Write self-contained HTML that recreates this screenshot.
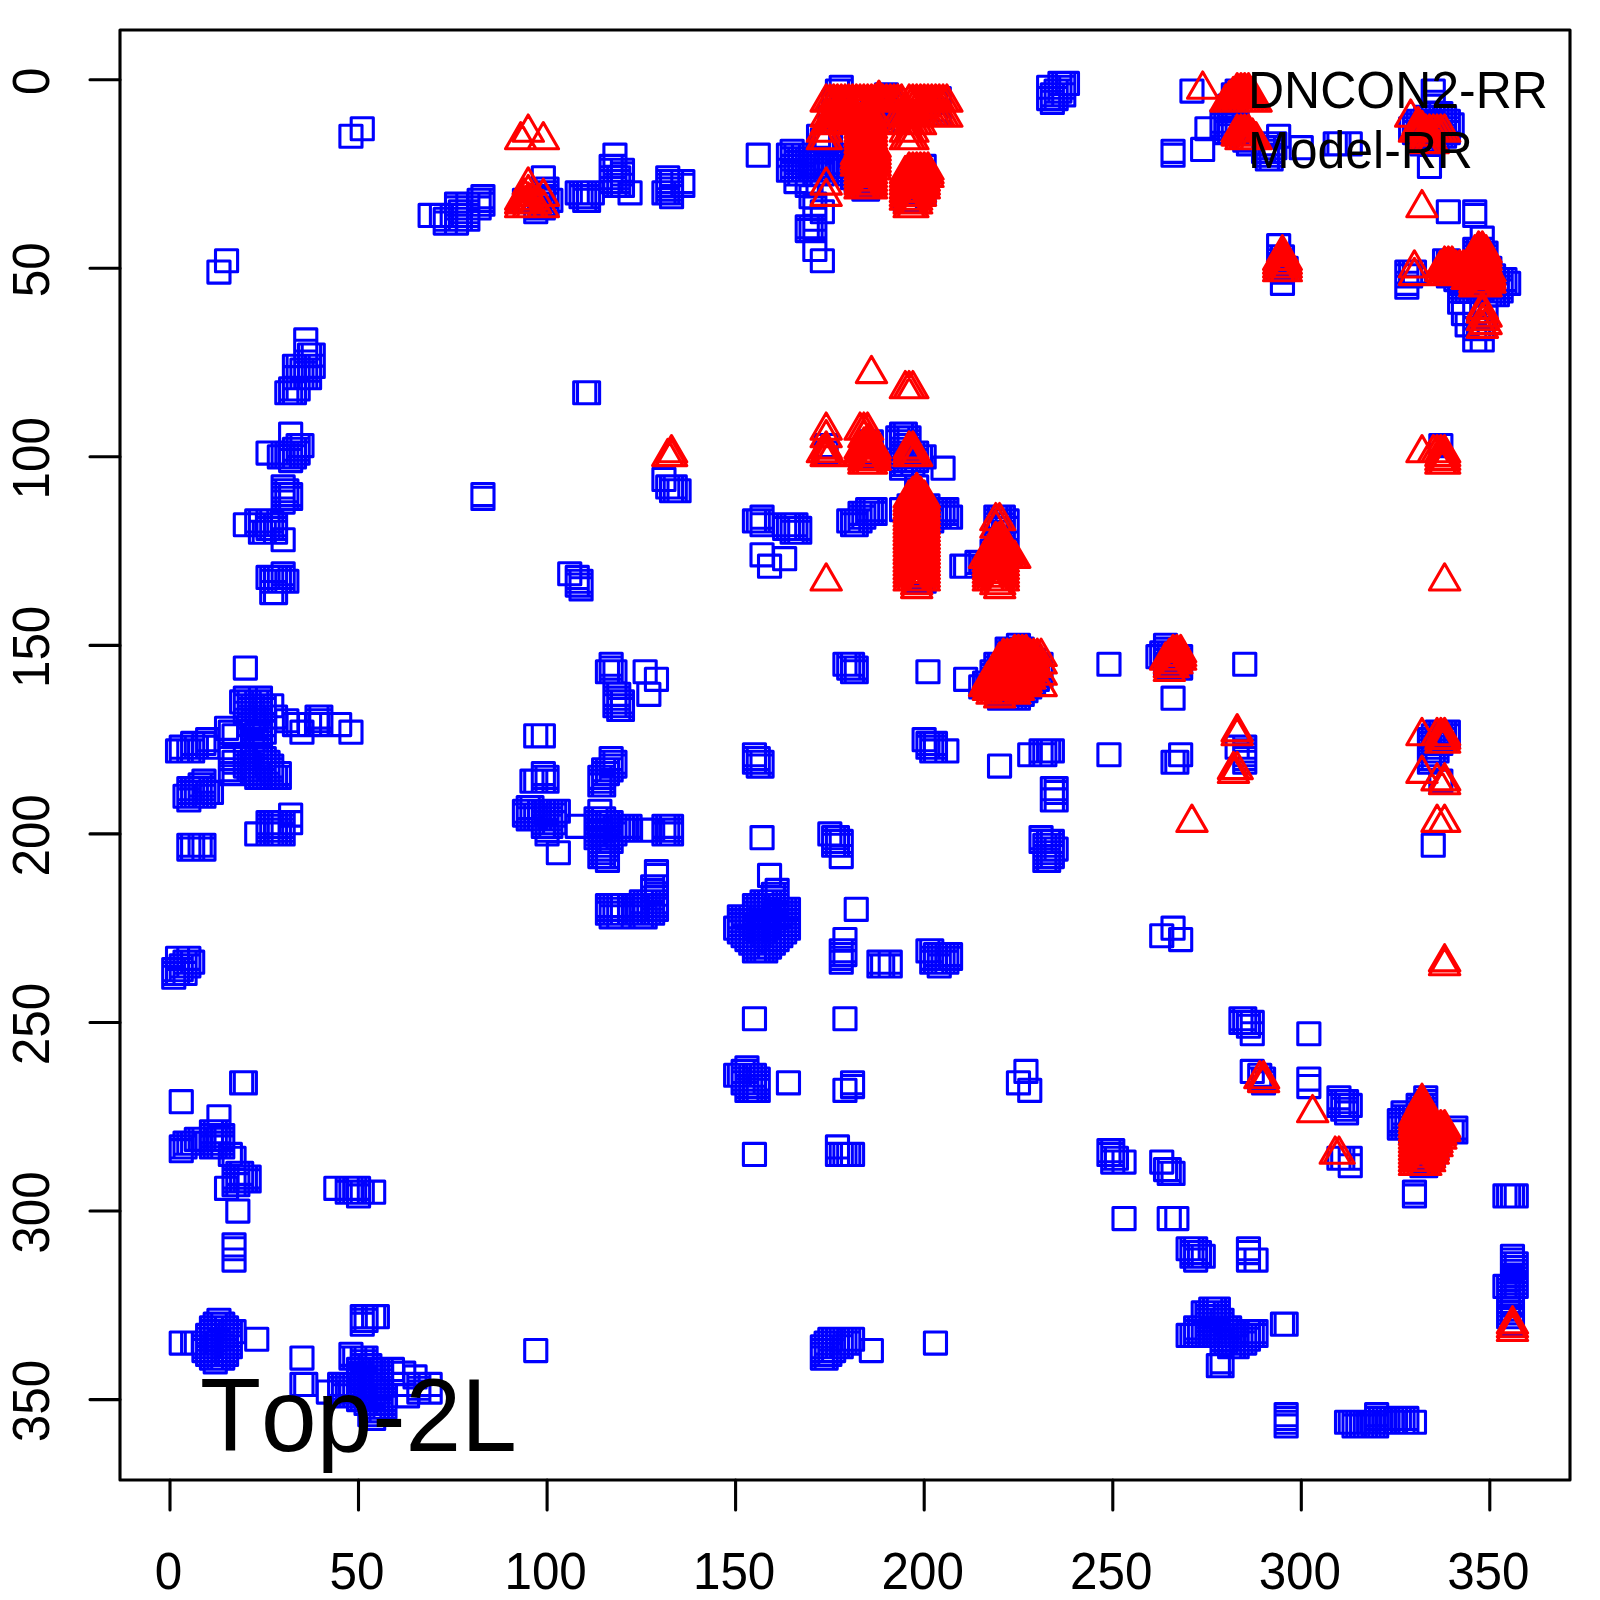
<!DOCTYPE html>
<html><head><meta charset="utf-8"><title>Top-2L contact map</title>
<style>html,body{margin:0;padding:0;background:#fff}svg{display:block}</style></head>
<body>
<svg width="1600" height="1600" viewBox="0 0 1600 1600">
<rect width="1600" height="1600" fill="#fff"/>
<path d="M162.7 958.6h22.1v22.1h-22.1zM162.7 962.4h22.1v22.1h-22.1zM162.7 966.2h22.1v22.1h-22.1zM166.5 739.9h22.1v22.1h-22.1zM166.5 947.3h22.1v22.1h-22.1zM166.5 958.6h22.1v22.1h-22.1zM166.5 962.4h22.1v22.1h-22.1zM170.2 736.1h22.1v22.1h-22.1zM170.2 739.9h22.1v22.1h-22.1zM170.2 954.9h22.1v22.1h-22.1zM170.2 958.6h22.1v22.1h-22.1zM170.2 1090.6h22.1v22.1h-22.1zM170.2 1135.9h22.1v22.1h-22.1zM170.2 1139.6h22.1v22.1h-22.1zM170.2 1332.0h22.1v22.1h-22.1zM174.0 785.2h22.1v22.1h-22.1zM174.0 951.1h22.1v22.1h-22.1zM174.0 962.4h22.1v22.1h-22.1zM174.0 1132.1h22.1v22.1h-22.1zM174.0 1135.9h22.1v22.1h-22.1zM177.8 739.9h22.1v22.1h-22.1zM177.8 777.6h22.1v22.1h-22.1zM177.8 781.4h22.1v22.1h-22.1zM177.8 785.2h22.1v22.1h-22.1zM177.8 788.9h22.1v22.1h-22.1zM177.8 834.2h22.1v22.1h-22.1zM177.8 838.0h22.1v22.1h-22.1zM177.8 947.3h22.1v22.1h-22.1zM177.8 954.9h22.1v22.1h-22.1zM177.8 1132.1h22.1v22.1h-22.1zM181.6 732.4h22.1v22.1h-22.1zM181.6 736.1h22.1v22.1h-22.1zM181.6 739.9h22.1v22.1h-22.1zM181.6 777.6h22.1v22.1h-22.1zM181.6 781.4h22.1v22.1h-22.1zM181.6 785.2h22.1v22.1h-22.1zM181.6 834.2h22.1v22.1h-22.1zM181.6 838.0h22.1v22.1h-22.1zM181.6 951.1h22.1v22.1h-22.1zM181.6 1132.1h22.1v22.1h-22.1zM181.6 1332.0h22.1v22.1h-22.1zM185.3 736.1h22.1v22.1h-22.1zM185.3 777.6h22.1v22.1h-22.1zM185.3 785.2h22.1v22.1h-22.1zM185.3 1128.3h22.1v22.1h-22.1zM185.3 1332.0h22.1v22.1h-22.1zM189.1 773.9h22.1v22.1h-22.1zM189.1 777.6h22.1v22.1h-22.1zM189.1 781.4h22.1v22.1h-22.1zM189.1 785.2h22.1v22.1h-22.1zM189.1 834.2h22.1v22.1h-22.1zM189.1 1128.3h22.1v22.1h-22.1zM192.9 732.4h22.1v22.1h-22.1zM192.9 770.1h22.1v22.1h-22.1zM192.9 773.9h22.1v22.1h-22.1zM192.9 777.6h22.1v22.1h-22.1zM192.9 781.4h22.1v22.1h-22.1zM192.9 785.2h22.1v22.1h-22.1zM192.9 834.2h22.1v22.1h-22.1zM192.9 838.0h22.1v22.1h-22.1zM192.9 1128.3h22.1v22.1h-22.1zM192.9 1332.0h22.1v22.1h-22.1zM192.9 1335.7h22.1v22.1h-22.1zM192.9 1339.5h22.1v22.1h-22.1zM196.6 728.6h22.1v22.1h-22.1zM196.6 736.1h22.1v22.1h-22.1zM196.6 781.4h22.1v22.1h-22.1zM196.6 1324.4h22.1v22.1h-22.1zM196.6 1328.2h22.1v22.1h-22.1zM196.6 1332.0h22.1v22.1h-22.1zM196.6 1335.7h22.1v22.1h-22.1zM196.6 1339.5h22.1v22.1h-22.1zM196.6 1343.3h22.1v22.1h-22.1zM200.4 781.4h22.1v22.1h-22.1zM200.4 1120.8h22.1v22.1h-22.1zM200.4 1124.6h22.1v22.1h-22.1zM200.4 1128.3h22.1v22.1h-22.1zM200.4 1132.1h22.1v22.1h-22.1zM200.4 1135.9h22.1v22.1h-22.1zM200.4 1316.9h22.1v22.1h-22.1zM200.4 1320.6h22.1v22.1h-22.1zM200.4 1324.4h22.1v22.1h-22.1zM200.4 1328.2h22.1v22.1h-22.1zM200.4 1332.0h22.1v22.1h-22.1zM200.4 1335.7h22.1v22.1h-22.1zM200.4 1339.5h22.1v22.1h-22.1zM200.4 1343.3h22.1v22.1h-22.1zM200.4 1347.0h22.1v22.1h-22.1zM204.2 1120.8h22.1v22.1h-22.1zM204.2 1124.6h22.1v22.1h-22.1zM204.2 1128.3h22.1v22.1h-22.1zM204.2 1132.1h22.1v22.1h-22.1zM204.2 1135.9h22.1v22.1h-22.1zM204.2 1313.1h22.1v22.1h-22.1zM204.2 1316.9h22.1v22.1h-22.1zM204.2 1320.6h22.1v22.1h-22.1zM204.2 1324.4h22.1v22.1h-22.1zM204.2 1328.2h22.1v22.1h-22.1zM204.2 1332.0h22.1v22.1h-22.1zM204.2 1335.7h22.1v22.1h-22.1zM204.2 1339.5h22.1v22.1h-22.1zM204.2 1343.3h22.1v22.1h-22.1zM204.2 1347.0h22.1v22.1h-22.1zM204.2 1350.8h22.1v22.1h-22.1zM207.9 261.0h22.1v22.1h-22.1zM207.9 1105.7h22.1v22.1h-22.1zM207.9 1120.8h22.1v22.1h-22.1zM207.9 1124.6h22.1v22.1h-22.1zM207.9 1128.3h22.1v22.1h-22.1zM207.9 1132.1h22.1v22.1h-22.1zM207.9 1135.9h22.1v22.1h-22.1zM207.9 1309.3h22.1v22.1h-22.1zM207.9 1313.1h22.1v22.1h-22.1zM207.9 1316.9h22.1v22.1h-22.1zM207.9 1320.6h22.1v22.1h-22.1zM207.9 1324.4h22.1v22.1h-22.1zM207.9 1328.2h22.1v22.1h-22.1zM207.9 1332.0h22.1v22.1h-22.1zM207.9 1335.7h22.1v22.1h-22.1zM207.9 1339.5h22.1v22.1h-22.1zM207.9 1343.3h22.1v22.1h-22.1zM207.9 1347.0h22.1v22.1h-22.1zM211.7 1124.6h22.1v22.1h-22.1zM211.7 1128.3h22.1v22.1h-22.1zM211.7 1132.1h22.1v22.1h-22.1zM211.7 1135.9h22.1v22.1h-22.1zM211.7 1313.1h22.1v22.1h-22.1zM211.7 1316.9h22.1v22.1h-22.1zM211.7 1320.6h22.1v22.1h-22.1zM211.7 1324.4h22.1v22.1h-22.1zM211.7 1328.2h22.1v22.1h-22.1zM211.7 1332.0h22.1v22.1h-22.1zM211.7 1335.7h22.1v22.1h-22.1zM211.7 1339.5h22.1v22.1h-22.1zM211.7 1343.3h22.1v22.1h-22.1zM211.7 1347.0h22.1v22.1h-22.1zM215.5 249.7h22.1v22.1h-22.1zM215.5 717.3h22.1v22.1h-22.1zM215.5 1177.3h22.1v22.1h-22.1zM215.5 1316.9h22.1v22.1h-22.1zM215.5 1320.6h22.1v22.1h-22.1zM215.5 1324.4h22.1v22.1h-22.1zM215.5 1328.2h22.1v22.1h-22.1zM215.5 1332.0h22.1v22.1h-22.1zM215.5 1335.7h22.1v22.1h-22.1zM215.5 1339.5h22.1v22.1h-22.1zM215.5 1343.3h22.1v22.1h-22.1zM219.3 721.1h22.1v22.1h-22.1zM219.3 743.7h22.1v22.1h-22.1zM219.3 747.5h22.1v22.1h-22.1zM219.3 758.8h22.1v22.1h-22.1zM219.3 762.5h22.1v22.1h-22.1zM219.3 1143.4h22.1v22.1h-22.1zM219.3 1320.6h22.1v22.1h-22.1zM219.3 1324.4h22.1v22.1h-22.1zM219.3 1328.2h22.1v22.1h-22.1zM219.3 1332.0h22.1v22.1h-22.1zM219.3 1335.7h22.1v22.1h-22.1zM223.0 724.8h22.1v22.1h-22.1zM223.0 751.2h22.1v22.1h-22.1zM223.0 762.5h22.1v22.1h-22.1zM223.0 1147.2h22.1v22.1h-22.1zM223.0 1166.0h22.1v22.1h-22.1zM223.0 1169.8h22.1v22.1h-22.1zM223.0 1173.6h22.1v22.1h-22.1zM223.0 1233.9h22.1v22.1h-22.1zM223.0 1237.7h22.1v22.1h-22.1zM223.0 1249.0h22.1v22.1h-22.1zM223.0 1320.6h22.1v22.1h-22.1zM226.8 1162.3h22.1v22.1h-22.1zM226.8 1166.0h22.1v22.1h-22.1zM226.8 1169.8h22.1v22.1h-22.1zM226.8 1173.6h22.1v22.1h-22.1zM226.8 1200.0h22.1v22.1h-22.1zM230.6 690.9h22.1v22.1h-22.1zM230.6 1071.8h22.1v22.1h-22.1zM230.6 1162.3h22.1v22.1h-22.1zM230.6 1166.0h22.1v22.1h-22.1zM230.6 1169.8h22.1v22.1h-22.1zM234.3 513.7h22.1v22.1h-22.1zM234.3 657.0h22.1v22.1h-22.1zM234.3 687.1h22.1v22.1h-22.1zM234.3 690.9h22.1v22.1h-22.1zM234.3 694.7h22.1v22.1h-22.1zM234.3 702.2h22.1v22.1h-22.1zM234.3 747.5h22.1v22.1h-22.1zM234.3 755.0h22.1v22.1h-22.1zM234.3 1071.8h22.1v22.1h-22.1zM234.3 1166.0h22.1v22.1h-22.1zM234.3 1169.8h22.1v22.1h-22.1zM238.1 690.9h22.1v22.1h-22.1zM238.1 698.4h22.1v22.1h-22.1zM238.1 706.0h22.1v22.1h-22.1zM238.1 713.5h22.1v22.1h-22.1zM238.1 751.2h22.1v22.1h-22.1zM238.1 758.8h22.1v22.1h-22.1zM238.1 1166.0h22.1v22.1h-22.1zM238.1 1169.8h22.1v22.1h-22.1zM241.9 694.7h22.1v22.1h-22.1zM241.9 702.2h22.1v22.1h-22.1zM241.9 709.7h22.1v22.1h-22.1zM241.9 717.3h22.1v22.1h-22.1zM241.9 724.8h22.1v22.1h-22.1zM241.9 732.4h22.1v22.1h-22.1zM241.9 739.9h22.1v22.1h-22.1zM241.9 743.7h22.1v22.1h-22.1zM241.9 747.5h22.1v22.1h-22.1zM241.9 755.0h22.1v22.1h-22.1zM241.9 762.5h22.1v22.1h-22.1zM245.7 509.9h22.1v22.1h-22.1zM245.7 513.7h22.1v22.1h-22.1zM245.7 690.9h22.1v22.1h-22.1zM245.7 698.4h22.1v22.1h-22.1zM245.7 706.0h22.1v22.1h-22.1zM245.7 713.5h22.1v22.1h-22.1zM245.7 721.1h22.1v22.1h-22.1zM245.7 728.6h22.1v22.1h-22.1zM245.7 736.1h22.1v22.1h-22.1zM245.7 743.7h22.1v22.1h-22.1zM245.7 751.2h22.1v22.1h-22.1zM245.7 758.8h22.1v22.1h-22.1zM245.7 766.3h22.1v22.1h-22.1zM245.7 822.9h22.1v22.1h-22.1zM245.7 1328.2h22.1v22.1h-22.1zM249.4 509.9h22.1v22.1h-22.1zM249.4 513.7h22.1v22.1h-22.1zM249.4 521.2h22.1v22.1h-22.1zM249.4 687.1h22.1v22.1h-22.1zM249.4 690.9h22.1v22.1h-22.1zM249.4 694.7h22.1v22.1h-22.1zM249.4 702.2h22.1v22.1h-22.1zM249.4 709.7h22.1v22.1h-22.1zM249.4 717.3h22.1v22.1h-22.1zM249.4 724.8h22.1v22.1h-22.1zM249.4 743.7h22.1v22.1h-22.1zM249.4 747.5h22.1v22.1h-22.1zM249.4 755.0h22.1v22.1h-22.1zM249.4 762.5h22.1v22.1h-22.1zM249.4 766.3h22.1v22.1h-22.1zM253.2 521.2h22.1v22.1h-22.1zM253.2 694.7h22.1v22.1h-22.1zM253.2 698.4h22.1v22.1h-22.1zM253.2 706.0h22.1v22.1h-22.1zM253.2 713.5h22.1v22.1h-22.1zM253.2 721.1h22.1v22.1h-22.1zM253.2 747.5h22.1v22.1h-22.1zM253.2 751.2h22.1v22.1h-22.1zM253.2 758.8h22.1v22.1h-22.1zM253.2 766.3h22.1v22.1h-22.1zM257.0 442.0h22.1v22.1h-22.1zM257.0 509.9h22.1v22.1h-22.1zM257.0 517.4h22.1v22.1h-22.1zM257.0 566.4h22.1v22.1h-22.1zM257.0 751.2h22.1v22.1h-22.1zM257.0 755.0h22.1v22.1h-22.1zM257.0 762.5h22.1v22.1h-22.1zM257.0 766.3h22.1v22.1h-22.1zM257.0 811.6h22.1v22.1h-22.1zM257.0 815.3h22.1v22.1h-22.1zM257.0 819.1h22.1v22.1h-22.1zM257.0 822.9h22.1v22.1h-22.1zM260.7 509.9h22.1v22.1h-22.1zM260.7 513.7h22.1v22.1h-22.1zM260.7 517.4h22.1v22.1h-22.1zM260.7 566.4h22.1v22.1h-22.1zM260.7 570.2h22.1v22.1h-22.1zM260.7 581.5h22.1v22.1h-22.1zM260.7 694.7h22.1v22.1h-22.1zM260.7 755.0h22.1v22.1h-22.1zM260.7 758.8h22.1v22.1h-22.1zM260.7 762.5h22.1v22.1h-22.1zM260.7 766.3h22.1v22.1h-22.1zM260.7 811.6h22.1v22.1h-22.1zM260.7 815.3h22.1v22.1h-22.1zM260.7 819.1h22.1v22.1h-22.1zM260.7 822.9h22.1v22.1h-22.1zM264.5 513.7h22.1v22.1h-22.1zM264.5 517.4h22.1v22.1h-22.1zM264.5 521.2h22.1v22.1h-22.1zM264.5 566.4h22.1v22.1h-22.1zM264.5 570.2h22.1v22.1h-22.1zM264.5 581.5h22.1v22.1h-22.1zM264.5 706.0h22.1v22.1h-22.1zM264.5 766.3h22.1v22.1h-22.1zM264.5 811.6h22.1v22.1h-22.1zM264.5 815.3h22.1v22.1h-22.1zM264.5 819.1h22.1v22.1h-22.1zM264.5 822.9h22.1v22.1h-22.1zM268.3 445.8h22.1v22.1h-22.1zM268.3 566.4h22.1v22.1h-22.1zM268.3 570.2h22.1v22.1h-22.1zM268.3 762.5h22.1v22.1h-22.1zM268.3 766.3h22.1v22.1h-22.1zM268.3 811.6h22.1v22.1h-22.1zM268.3 815.3h22.1v22.1h-22.1zM268.3 819.1h22.1v22.1h-22.1zM268.3 822.9h22.1v22.1h-22.1zM272.1 442.0h22.1v22.1h-22.1zM272.1 445.8h22.1v22.1h-22.1zM272.1 475.9h22.1v22.1h-22.1zM272.1 479.7h22.1v22.1h-22.1zM272.1 483.5h22.1v22.1h-22.1zM272.1 487.3h22.1v22.1h-22.1zM272.1 491.0h22.1v22.1h-22.1zM272.1 528.7h22.1v22.1h-22.1zM272.1 562.7h22.1v22.1h-22.1zM272.1 566.4h22.1v22.1h-22.1zM272.1 570.2h22.1v22.1h-22.1zM272.1 811.6h22.1v22.1h-22.1zM272.1 815.3h22.1v22.1h-22.1zM272.1 819.1h22.1v22.1h-22.1zM272.1 822.9h22.1v22.1h-22.1zM275.8 381.7h22.1v22.1h-22.1zM275.8 442.0h22.1v22.1h-22.1zM275.8 445.8h22.1v22.1h-22.1zM275.8 479.7h22.1v22.1h-22.1zM275.8 483.5h22.1v22.1h-22.1zM275.8 487.3h22.1v22.1h-22.1zM275.8 570.2h22.1v22.1h-22.1zM275.8 709.7h22.1v22.1h-22.1zM279.6 377.9h22.1v22.1h-22.1zM279.6 381.7h22.1v22.1h-22.1zM279.6 423.1h22.1v22.1h-22.1zM279.6 442.0h22.1v22.1h-22.1zM279.6 445.8h22.1v22.1h-22.1zM279.6 449.5h22.1v22.1h-22.1zM279.6 483.5h22.1v22.1h-22.1zM279.6 487.3h22.1v22.1h-22.1zM279.6 804.0h22.1v22.1h-22.1zM279.6 811.6h22.1v22.1h-22.1zM283.4 355.3h22.1v22.1h-22.1zM283.4 366.6h22.1v22.1h-22.1zM283.4 377.9h22.1v22.1h-22.1zM283.4 381.7h22.1v22.1h-22.1zM283.4 438.2h22.1v22.1h-22.1zM283.4 442.0h22.1v22.1h-22.1zM283.4 445.8h22.1v22.1h-22.1zM283.4 713.5h22.1v22.1h-22.1zM287.1 355.3h22.1v22.1h-22.1zM287.1 366.6h22.1v22.1h-22.1zM287.1 377.9h22.1v22.1h-22.1zM287.1 434.5h22.1v22.1h-22.1zM287.1 438.2h22.1v22.1h-22.1zM287.1 442.0h22.1v22.1h-22.1zM287.1 713.5h22.1v22.1h-22.1zM290.9 359.0h22.1v22.1h-22.1zM290.9 366.6h22.1v22.1h-22.1zM290.9 434.5h22.1v22.1h-22.1zM290.9 721.1h22.1v22.1h-22.1zM290.9 1347.0h22.1v22.1h-22.1zM290.9 1373.4h22.1v22.1h-22.1zM294.7 328.9h22.1v22.1h-22.1zM294.7 340.2h22.1v22.1h-22.1zM294.7 355.3h22.1v22.1h-22.1zM294.7 366.6h22.1v22.1h-22.1zM294.7 1373.4h22.1v22.1h-22.1zM298.5 344.0h22.1v22.1h-22.1zM298.5 359.0h22.1v22.1h-22.1zM298.5 366.6h22.1v22.1h-22.1zM298.5 713.5h22.1v22.1h-22.1zM302.2 344.0h22.1v22.1h-22.1zM302.2 355.3h22.1v22.1h-22.1zM306.0 706.0h22.1v22.1h-22.1zM306.0 709.7h22.1v22.1h-22.1zM306.0 713.5h22.1v22.1h-22.1zM309.8 706.0h22.1v22.1h-22.1zM309.8 709.7h22.1v22.1h-22.1zM309.8 713.5h22.1v22.1h-22.1zM317.3 1381.0h22.1v22.1h-22.1zM324.8 1177.3h22.1v22.1h-22.1zM328.6 713.5h22.1v22.1h-22.1zM328.6 1373.4h22.1v22.1h-22.1zM328.6 1377.2h22.1v22.1h-22.1zM328.6 1381.0h22.1v22.1h-22.1zM332.4 1373.4h22.1v22.1h-22.1zM332.4 1377.2h22.1v22.1h-22.1zM332.4 1381.0h22.1v22.1h-22.1zM332.4 1384.8h22.1v22.1h-22.1zM336.2 1177.3h22.1v22.1h-22.1zM336.2 1181.1h22.1v22.1h-22.1zM336.2 1373.4h22.1v22.1h-22.1zM336.2 1377.2h22.1v22.1h-22.1zM336.2 1381.0h22.1v22.1h-22.1zM336.2 1384.8h22.1v22.1h-22.1zM339.9 125.2h22.1v22.1h-22.1zM339.9 721.1h22.1v22.1h-22.1zM339.9 1177.3h22.1v22.1h-22.1zM339.9 1181.1h22.1v22.1h-22.1zM339.9 1343.3h22.1v22.1h-22.1zM339.9 1347.0h22.1v22.1h-22.1zM339.9 1373.4h22.1v22.1h-22.1zM339.9 1377.2h22.1v22.1h-22.1zM339.9 1381.0h22.1v22.1h-22.1zM339.9 1384.8h22.1v22.1h-22.1zM343.7 1177.3h22.1v22.1h-22.1zM343.7 1181.1h22.1v22.1h-22.1zM343.7 1347.0h22.1v22.1h-22.1zM343.7 1373.4h22.1v22.1h-22.1zM343.7 1377.2h22.1v22.1h-22.1zM343.7 1381.0h22.1v22.1h-22.1zM343.7 1384.8h22.1v22.1h-22.1zM347.5 1177.3h22.1v22.1h-22.1zM347.5 1181.1h22.1v22.1h-22.1zM347.5 1184.9h22.1v22.1h-22.1zM347.5 1358.4h22.1v22.1h-22.1zM347.5 1362.1h22.1v22.1h-22.1zM347.5 1365.9h22.1v22.1h-22.1zM347.5 1369.7h22.1v22.1h-22.1zM347.5 1373.4h22.1v22.1h-22.1zM347.5 1377.2h22.1v22.1h-22.1zM347.5 1381.0h22.1v22.1h-22.1zM347.5 1384.8h22.1v22.1h-22.1zM347.5 1388.5h22.1v22.1h-22.1zM351.2 117.7h22.1v22.1h-22.1zM351.2 1181.1h22.1v22.1h-22.1zM351.2 1305.6h22.1v22.1h-22.1zM351.2 1309.3h22.1v22.1h-22.1zM351.2 1313.1h22.1v22.1h-22.1zM351.2 1347.0h22.1v22.1h-22.1zM351.2 1350.8h22.1v22.1h-22.1zM351.2 1354.6h22.1v22.1h-22.1zM351.2 1358.4h22.1v22.1h-22.1zM351.2 1362.1h22.1v22.1h-22.1zM351.2 1365.9h22.1v22.1h-22.1zM351.2 1369.7h22.1v22.1h-22.1zM351.2 1373.4h22.1v22.1h-22.1zM351.2 1377.2h22.1v22.1h-22.1zM351.2 1381.0h22.1v22.1h-22.1zM351.2 1384.8h22.1v22.1h-22.1zM351.2 1388.5h22.1v22.1h-22.1zM355.0 1305.6h22.1v22.1h-22.1zM355.0 1309.3h22.1v22.1h-22.1zM355.0 1347.0h22.1v22.1h-22.1zM355.0 1350.8h22.1v22.1h-22.1zM355.0 1354.6h22.1v22.1h-22.1zM355.0 1358.4h22.1v22.1h-22.1zM355.0 1362.1h22.1v22.1h-22.1zM355.0 1365.9h22.1v22.1h-22.1zM355.0 1369.7h22.1v22.1h-22.1zM355.0 1373.4h22.1v22.1h-22.1zM355.0 1377.2h22.1v22.1h-22.1zM355.0 1381.0h22.1v22.1h-22.1zM355.0 1384.8h22.1v22.1h-22.1zM355.0 1388.5h22.1v22.1h-22.1zM355.0 1392.3h22.1v22.1h-22.1zM358.8 1354.6h22.1v22.1h-22.1zM358.8 1358.4h22.1v22.1h-22.1zM358.8 1362.1h22.1v22.1h-22.1zM358.8 1365.9h22.1v22.1h-22.1zM358.8 1369.7h22.1v22.1h-22.1zM358.8 1373.4h22.1v22.1h-22.1zM358.8 1377.2h22.1v22.1h-22.1zM358.8 1381.0h22.1v22.1h-22.1zM358.8 1384.8h22.1v22.1h-22.1zM358.8 1388.5h22.1v22.1h-22.1zM358.8 1392.3h22.1v22.1h-22.1zM358.8 1396.1h22.1v22.1h-22.1zM358.8 1399.8h22.1v22.1h-22.1zM358.8 1403.6h22.1v22.1h-22.1zM362.6 1181.1h22.1v22.1h-22.1zM362.6 1305.6h22.1v22.1h-22.1zM362.6 1358.4h22.1v22.1h-22.1zM362.6 1362.1h22.1v22.1h-22.1zM362.6 1365.9h22.1v22.1h-22.1zM362.6 1369.7h22.1v22.1h-22.1zM362.6 1373.4h22.1v22.1h-22.1zM362.6 1377.2h22.1v22.1h-22.1zM362.6 1381.0h22.1v22.1h-22.1zM362.6 1384.8h22.1v22.1h-22.1zM362.6 1388.5h22.1v22.1h-22.1zM362.6 1392.3h22.1v22.1h-22.1zM362.6 1396.1h22.1v22.1h-22.1zM362.6 1399.8h22.1v22.1h-22.1zM362.6 1403.6h22.1v22.1h-22.1zM362.6 1407.4h22.1v22.1h-22.1zM366.3 1305.6h22.1v22.1h-22.1zM366.3 1358.4h22.1v22.1h-22.1zM366.3 1362.1h22.1v22.1h-22.1zM366.3 1365.9h22.1v22.1h-22.1zM366.3 1369.7h22.1v22.1h-22.1zM366.3 1373.4h22.1v22.1h-22.1zM366.3 1377.2h22.1v22.1h-22.1zM366.3 1381.0h22.1v22.1h-22.1zM366.3 1384.8h22.1v22.1h-22.1zM366.3 1388.5h22.1v22.1h-22.1zM366.3 1392.3h22.1v22.1h-22.1zM366.3 1396.1h22.1v22.1h-22.1zM366.3 1399.8h22.1v22.1h-22.1zM370.1 1358.4h22.1v22.1h-22.1zM370.1 1362.1h22.1v22.1h-22.1zM370.1 1365.9h22.1v22.1h-22.1zM370.1 1369.7h22.1v22.1h-22.1zM370.1 1373.4h22.1v22.1h-22.1zM370.1 1377.2h22.1v22.1h-22.1zM370.1 1381.0h22.1v22.1h-22.1zM370.1 1384.8h22.1v22.1h-22.1zM370.1 1388.5h22.1v22.1h-22.1zM370.1 1392.3h22.1v22.1h-22.1zM370.1 1396.1h22.1v22.1h-22.1zM370.1 1399.8h22.1v22.1h-22.1zM373.9 1384.8h22.1v22.1h-22.1zM373.9 1388.5h22.1v22.1h-22.1zM373.9 1392.3h22.1v22.1h-22.1zM373.9 1396.1h22.1v22.1h-22.1zM381.4 1358.4h22.1v22.1h-22.1zM392.7 1362.1h22.1v22.1h-22.1zM392.7 1373.4h22.1v22.1h-22.1zM396.5 1384.8h22.1v22.1h-22.1zM404.0 1365.9h22.1v22.1h-22.1zM407.8 1373.4h22.1v22.1h-22.1zM407.8 1377.2h22.1v22.1h-22.1zM407.8 1381.0h22.1v22.1h-22.1zM419.1 204.4h22.1v22.1h-22.1zM419.1 1373.4h22.1v22.1h-22.1zM419.1 1381.0h22.1v22.1h-22.1zM430.4 204.4h22.1v22.1h-22.1zM434.2 208.2h22.1v22.1h-22.1zM434.2 212.0h22.1v22.1h-22.1zM445.5 193.1h22.1v22.1h-22.1zM445.5 196.9h22.1v22.1h-22.1zM445.5 204.4h22.1v22.1h-22.1zM445.5 212.0h22.1v22.1h-22.1zM449.3 200.7h22.1v22.1h-22.1zM449.3 208.2h22.1v22.1h-22.1zM456.8 193.1h22.1v22.1h-22.1zM456.8 196.9h22.1v22.1h-22.1zM456.8 200.7h22.1v22.1h-22.1zM456.8 204.4h22.1v22.1h-22.1zM456.8 208.2h22.1v22.1h-22.1zM468.1 189.3h22.1v22.1h-22.1zM468.1 193.1h22.1v22.1h-22.1zM468.1 196.9h22.1v22.1h-22.1zM471.9 185.6h22.1v22.1h-22.1zM471.9 189.3h22.1v22.1h-22.1zM471.9 193.1h22.1v22.1h-22.1zM471.9 483.5h22.1v22.1h-22.1zM471.9 487.3h22.1v22.1h-22.1zM513.4 189.3h22.1v22.1h-22.1zM513.4 800.2h22.1v22.1h-22.1zM513.4 804.0h22.1v22.1h-22.1zM517.2 796.5h22.1v22.1h-22.1zM517.2 804.0h22.1v22.1h-22.1zM517.2 807.8h22.1v22.1h-22.1zM520.9 770.1h22.1v22.1h-22.1zM520.9 796.5h22.1v22.1h-22.1zM520.9 804.0h22.1v22.1h-22.1zM520.9 807.8h22.1v22.1h-22.1zM524.7 196.9h22.1v22.1h-22.1zM524.7 200.7h22.1v22.1h-22.1zM524.7 724.8h22.1v22.1h-22.1zM524.7 770.1h22.1v22.1h-22.1zM524.7 804.0h22.1v22.1h-22.1zM524.7 807.8h22.1v22.1h-22.1zM524.7 1339.5h22.1v22.1h-22.1zM528.5 193.1h22.1v22.1h-22.1zM528.5 196.9h22.1v22.1h-22.1zM528.5 800.2h22.1v22.1h-22.1zM528.5 804.0h22.1v22.1h-22.1zM528.5 807.8h22.1v22.1h-22.1zM532.3 166.7h22.1v22.1h-22.1zM532.3 181.8h22.1v22.1h-22.1zM532.3 185.6h22.1v22.1h-22.1zM532.3 189.3h22.1v22.1h-22.1zM532.3 193.1h22.1v22.1h-22.1zM532.3 196.9h22.1v22.1h-22.1zM532.3 724.8h22.1v22.1h-22.1zM532.3 762.5h22.1v22.1h-22.1zM532.3 766.3h22.1v22.1h-22.1zM532.3 770.1h22.1v22.1h-22.1zM532.3 800.2h22.1v22.1h-22.1zM532.3 804.0h22.1v22.1h-22.1zM532.3 807.8h22.1v22.1h-22.1zM532.3 811.6h22.1v22.1h-22.1zM532.3 815.3h22.1v22.1h-22.1zM536.0 178.0h22.1v22.1h-22.1zM536.0 181.8h22.1v22.1h-22.1zM536.0 185.6h22.1v22.1h-22.1zM536.0 189.3h22.1v22.1h-22.1zM536.0 193.1h22.1v22.1h-22.1zM536.0 766.3h22.1v22.1h-22.1zM536.0 770.1h22.1v22.1h-22.1zM536.0 800.2h22.1v22.1h-22.1zM536.0 804.0h22.1v22.1h-22.1zM536.0 807.8h22.1v22.1h-22.1zM536.0 811.6h22.1v22.1h-22.1zM536.0 815.3h22.1v22.1h-22.1zM536.0 819.1h22.1v22.1h-22.1zM536.0 822.9h22.1v22.1h-22.1zM539.8 189.3h22.1v22.1h-22.1zM539.8 800.2h22.1v22.1h-22.1zM539.8 804.0h22.1v22.1h-22.1zM539.8 807.8h22.1v22.1h-22.1zM539.8 811.6h22.1v22.1h-22.1zM539.8 815.3h22.1v22.1h-22.1zM543.6 800.2h22.1v22.1h-22.1zM543.6 804.0h22.1v22.1h-22.1zM543.6 811.6h22.1v22.1h-22.1zM547.3 800.2h22.1v22.1h-22.1zM547.3 841.7h22.1v22.1h-22.1zM558.7 562.7h22.1v22.1h-22.1zM566.2 181.8h22.1v22.1h-22.1zM566.2 566.4h22.1v22.1h-22.1zM566.2 570.2h22.1v22.1h-22.1zM566.2 574.0h22.1v22.1h-22.1zM566.2 815.3h22.1v22.1h-22.1zM570.0 181.8h22.1v22.1h-22.1zM570.0 185.6h22.1v22.1h-22.1zM570.0 570.2h22.1v22.1h-22.1zM570.0 574.0h22.1v22.1h-22.1zM570.0 577.8h22.1v22.1h-22.1zM573.7 181.8h22.1v22.1h-22.1zM573.7 185.6h22.1v22.1h-22.1zM573.7 189.3h22.1v22.1h-22.1zM573.7 381.7h22.1v22.1h-22.1zM577.5 181.8h22.1v22.1h-22.1zM577.5 185.6h22.1v22.1h-22.1zM577.5 189.3h22.1v22.1h-22.1zM577.5 381.7h22.1v22.1h-22.1zM581.3 181.8h22.1v22.1h-22.1zM585.0 807.8h22.1v22.1h-22.1zM585.0 811.6h22.1v22.1h-22.1zM585.0 815.3h22.1v22.1h-22.1zM585.0 819.1h22.1v22.1h-22.1zM585.0 822.9h22.1v22.1h-22.1zM585.0 826.6h22.1v22.1h-22.1zM588.8 766.3h22.1v22.1h-22.1zM588.8 770.1h22.1v22.1h-22.1zM588.8 773.9h22.1v22.1h-22.1zM588.8 800.2h22.1v22.1h-22.1zM588.8 807.8h22.1v22.1h-22.1zM588.8 811.6h22.1v22.1h-22.1zM588.8 815.3h22.1v22.1h-22.1zM588.8 819.1h22.1v22.1h-22.1zM588.8 822.9h22.1v22.1h-22.1zM588.8 826.6h22.1v22.1h-22.1zM588.8 830.4h22.1v22.1h-22.1zM588.8 834.2h22.1v22.1h-22.1zM588.8 838.0h22.1v22.1h-22.1zM588.8 841.7h22.1v22.1h-22.1zM588.8 845.5h22.1v22.1h-22.1zM592.6 758.8h22.1v22.1h-22.1zM592.6 762.5h22.1v22.1h-22.1zM592.6 766.3h22.1v22.1h-22.1zM592.6 770.1h22.1v22.1h-22.1zM592.6 773.9h22.1v22.1h-22.1zM592.6 807.8h22.1v22.1h-22.1zM592.6 811.6h22.1v22.1h-22.1zM592.6 815.3h22.1v22.1h-22.1zM592.6 819.1h22.1v22.1h-22.1zM592.6 822.9h22.1v22.1h-22.1zM592.6 826.6h22.1v22.1h-22.1zM592.6 830.4h22.1v22.1h-22.1zM592.6 834.2h22.1v22.1h-22.1zM592.6 838.0h22.1v22.1h-22.1zM592.6 841.7h22.1v22.1h-22.1zM592.6 845.5h22.1v22.1h-22.1zM596.4 660.7h22.1v22.1h-22.1zM596.4 758.8h22.1v22.1h-22.1zM596.4 762.5h22.1v22.1h-22.1zM596.4 811.6h22.1v22.1h-22.1zM596.4 815.3h22.1v22.1h-22.1zM596.4 819.1h22.1v22.1h-22.1zM596.4 822.9h22.1v22.1h-22.1zM596.4 826.6h22.1v22.1h-22.1zM596.4 830.4h22.1v22.1h-22.1zM596.4 834.2h22.1v22.1h-22.1zM596.4 838.0h22.1v22.1h-22.1zM596.4 845.5h22.1v22.1h-22.1zM596.4 849.3h22.1v22.1h-22.1zM596.4 894.5h22.1v22.1h-22.1zM596.4 898.3h22.1v22.1h-22.1zM596.4 902.1h22.1v22.1h-22.1zM600.1 155.4h22.1v22.1h-22.1zM600.1 159.2h22.1v22.1h-22.1zM600.1 166.7h22.1v22.1h-22.1zM600.1 170.5h22.1v22.1h-22.1zM600.1 653.2h22.1v22.1h-22.1zM600.1 657.0h22.1v22.1h-22.1zM600.1 660.7h22.1v22.1h-22.1zM600.1 747.5h22.1v22.1h-22.1zM600.1 751.2h22.1v22.1h-22.1zM600.1 755.0h22.1v22.1h-22.1zM600.1 758.8h22.1v22.1h-22.1zM600.1 811.6h22.1v22.1h-22.1zM600.1 815.3h22.1v22.1h-22.1zM600.1 819.1h22.1v22.1h-22.1zM600.1 822.9h22.1v22.1h-22.1zM600.1 826.6h22.1v22.1h-22.1zM600.1 830.4h22.1v22.1h-22.1zM600.1 894.5h22.1v22.1h-22.1zM600.1 898.3h22.1v22.1h-22.1zM600.1 902.1h22.1v22.1h-22.1zM600.1 905.8h22.1v22.1h-22.1zM603.9 144.1h22.1v22.1h-22.1zM603.9 155.4h22.1v22.1h-22.1zM603.9 159.2h22.1v22.1h-22.1zM603.9 170.5h22.1v22.1h-22.1zM603.9 174.3h22.1v22.1h-22.1zM603.9 660.7h22.1v22.1h-22.1zM603.9 683.3h22.1v22.1h-22.1zM603.9 687.1h22.1v22.1h-22.1zM603.9 690.9h22.1v22.1h-22.1zM603.9 694.7h22.1v22.1h-22.1zM603.9 751.2h22.1v22.1h-22.1zM603.9 755.0h22.1v22.1h-22.1zM603.9 815.3h22.1v22.1h-22.1zM603.9 819.1h22.1v22.1h-22.1zM603.9 822.9h22.1v22.1h-22.1zM603.9 894.5h22.1v22.1h-22.1zM603.9 898.3h22.1v22.1h-22.1zM603.9 902.1h22.1v22.1h-22.1zM607.7 166.7h22.1v22.1h-22.1zM607.7 170.5h22.1v22.1h-22.1zM607.7 174.3h22.1v22.1h-22.1zM607.7 683.3h22.1v22.1h-22.1zM607.7 687.1h22.1v22.1h-22.1zM607.7 690.9h22.1v22.1h-22.1zM607.7 694.7h22.1v22.1h-22.1zM607.7 698.4h22.1v22.1h-22.1zM607.7 815.3h22.1v22.1h-22.1zM607.7 819.1h22.1v22.1h-22.1zM607.7 894.5h22.1v22.1h-22.1zM607.7 898.3h22.1v22.1h-22.1zM607.7 902.1h22.1v22.1h-22.1zM607.7 905.8h22.1v22.1h-22.1zM611.4 159.2h22.1v22.1h-22.1zM611.4 162.9h22.1v22.1h-22.1zM611.4 174.3h22.1v22.1h-22.1zM611.4 690.9h22.1v22.1h-22.1zM611.4 694.7h22.1v22.1h-22.1zM611.4 698.4h22.1v22.1h-22.1zM611.4 815.3h22.1v22.1h-22.1zM611.4 819.1h22.1v22.1h-22.1zM611.4 894.5h22.1v22.1h-22.1zM611.4 898.3h22.1v22.1h-22.1zM611.4 902.1h22.1v22.1h-22.1zM615.2 815.3h22.1v22.1h-22.1zM615.2 819.1h22.1v22.1h-22.1zM619.0 181.8h22.1v22.1h-22.1zM619.0 815.3h22.1v22.1h-22.1zM619.0 819.1h22.1v22.1h-22.1zM622.8 894.5h22.1v22.1h-22.1zM622.8 898.3h22.1v22.1h-22.1zM622.8 902.1h22.1v22.1h-22.1zM626.5 894.5h22.1v22.1h-22.1zM626.5 898.3h22.1v22.1h-22.1zM626.5 902.1h22.1v22.1h-22.1zM630.3 890.8h22.1v22.1h-22.1zM630.3 894.5h22.1v22.1h-22.1zM630.3 898.3h22.1v22.1h-22.1zM630.3 902.1h22.1v22.1h-22.1zM630.3 905.8h22.1v22.1h-22.1zM634.1 660.7h22.1v22.1h-22.1zM634.1 819.1h22.1v22.1h-22.1zM634.1 890.8h22.1v22.1h-22.1zM634.1 894.5h22.1v22.1h-22.1zM634.1 898.3h22.1v22.1h-22.1zM634.1 902.1h22.1v22.1h-22.1zM634.1 905.8h22.1v22.1h-22.1zM637.8 683.3h22.1v22.1h-22.1zM637.8 819.1h22.1v22.1h-22.1zM637.8 890.8h22.1v22.1h-22.1zM637.8 894.5h22.1v22.1h-22.1zM637.8 898.3h22.1v22.1h-22.1zM637.8 902.1h22.1v22.1h-22.1zM641.6 819.1h22.1v22.1h-22.1zM641.6 875.7h22.1v22.1h-22.1zM641.6 879.4h22.1v22.1h-22.1zM641.6 887.0h22.1v22.1h-22.1zM641.6 890.8h22.1v22.1h-22.1zM641.6 894.5h22.1v22.1h-22.1zM641.6 898.3h22.1v22.1h-22.1zM641.6 902.1h22.1v22.1h-22.1zM645.4 668.3h22.1v22.1h-22.1zM645.4 860.6h22.1v22.1h-22.1zM645.4 864.4h22.1v22.1h-22.1zM645.4 875.7h22.1v22.1h-22.1zM645.4 883.2h22.1v22.1h-22.1zM645.4 890.8h22.1v22.1h-22.1zM645.4 894.5h22.1v22.1h-22.1zM645.4 898.3h22.1v22.1h-22.1zM652.9 181.8h22.1v22.1h-22.1zM652.9 468.4h22.1v22.1h-22.1zM652.9 815.3h22.1v22.1h-22.1zM652.9 819.1h22.1v22.1h-22.1zM652.9 822.9h22.1v22.1h-22.1zM656.7 166.7h22.1v22.1h-22.1zM656.7 170.5h22.1v22.1h-22.1zM656.7 174.3h22.1v22.1h-22.1zM656.7 178.0h22.1v22.1h-22.1zM656.7 181.8h22.1v22.1h-22.1zM656.7 475.9h22.1v22.1h-22.1zM656.7 815.3h22.1v22.1h-22.1zM656.7 819.1h22.1v22.1h-22.1zM656.7 822.9h22.1v22.1h-22.1zM660.5 170.5h22.1v22.1h-22.1zM660.5 174.3h22.1v22.1h-22.1zM660.5 178.0h22.1v22.1h-22.1zM660.5 181.8h22.1v22.1h-22.1zM660.5 185.6h22.1v22.1h-22.1zM660.5 475.9h22.1v22.1h-22.1zM660.5 479.7h22.1v22.1h-22.1zM660.5 815.3h22.1v22.1h-22.1zM660.5 819.1h22.1v22.1h-22.1zM660.5 822.9h22.1v22.1h-22.1zM664.2 475.9h22.1v22.1h-22.1zM664.2 479.7h22.1v22.1h-22.1zM668.0 479.7h22.1v22.1h-22.1zM671.8 170.5h22.1v22.1h-22.1zM671.8 174.3h22.1v22.1h-22.1zM724.6 917.1h22.1v22.1h-22.1zM724.6 1064.2h22.1v22.1h-22.1zM728.3 905.8h22.1v22.1h-22.1zM728.3 909.6h22.1v22.1h-22.1zM728.3 913.4h22.1v22.1h-22.1zM728.3 917.1h22.1v22.1h-22.1zM728.3 920.9h22.1v22.1h-22.1zM728.3 1064.2h22.1v22.1h-22.1zM732.1 905.8h22.1v22.1h-22.1zM732.1 909.6h22.1v22.1h-22.1zM732.1 913.4h22.1v22.1h-22.1zM732.1 917.1h22.1v22.1h-22.1zM732.1 920.9h22.1v22.1h-22.1zM732.1 924.7h22.1v22.1h-22.1zM732.1 1060.4h22.1v22.1h-22.1zM732.1 1064.2h22.1v22.1h-22.1zM732.1 1068.0h22.1v22.1h-22.1zM732.1 1071.8h22.1v22.1h-22.1zM735.9 905.8h22.1v22.1h-22.1zM735.9 909.6h22.1v22.1h-22.1zM735.9 913.4h22.1v22.1h-22.1zM735.9 917.1h22.1v22.1h-22.1zM735.9 920.9h22.1v22.1h-22.1zM735.9 924.7h22.1v22.1h-22.1zM735.9 928.5h22.1v22.1h-22.1zM735.9 1056.7h22.1v22.1h-22.1zM735.9 1060.4h22.1v22.1h-22.1zM735.9 1064.2h22.1v22.1h-22.1zM735.9 1068.0h22.1v22.1h-22.1zM735.9 1071.8h22.1v22.1h-22.1zM735.9 1075.5h22.1v22.1h-22.1zM735.9 1079.3h22.1v22.1h-22.1zM739.7 905.8h22.1v22.1h-22.1zM739.7 909.6h22.1v22.1h-22.1zM739.7 913.4h22.1v22.1h-22.1zM739.7 917.1h22.1v22.1h-22.1zM739.7 920.9h22.1v22.1h-22.1zM739.7 924.7h22.1v22.1h-22.1zM739.7 928.5h22.1v22.1h-22.1zM739.7 932.2h22.1v22.1h-22.1zM739.7 1064.2h22.1v22.1h-22.1zM739.7 1068.0h22.1v22.1h-22.1zM739.7 1071.8h22.1v22.1h-22.1zM739.7 1075.5h22.1v22.1h-22.1zM739.7 1079.3h22.1v22.1h-22.1zM743.4 509.9h22.1v22.1h-22.1zM743.4 743.7h22.1v22.1h-22.1zM743.4 747.5h22.1v22.1h-22.1zM743.4 751.2h22.1v22.1h-22.1zM743.4 894.5h22.1v22.1h-22.1zM743.4 898.3h22.1v22.1h-22.1zM743.4 902.1h22.1v22.1h-22.1zM743.4 905.8h22.1v22.1h-22.1zM743.4 909.6h22.1v22.1h-22.1zM743.4 913.4h22.1v22.1h-22.1zM743.4 917.1h22.1v22.1h-22.1zM743.4 920.9h22.1v22.1h-22.1zM743.4 924.7h22.1v22.1h-22.1zM743.4 928.5h22.1v22.1h-22.1zM743.4 932.2h22.1v22.1h-22.1zM743.4 936.0h22.1v22.1h-22.1zM743.4 939.8h22.1v22.1h-22.1zM743.4 1007.7h22.1v22.1h-22.1zM743.4 1064.2h22.1v22.1h-22.1zM743.4 1068.0h22.1v22.1h-22.1zM743.4 1071.8h22.1v22.1h-22.1zM743.4 1075.5h22.1v22.1h-22.1zM743.4 1079.3h22.1v22.1h-22.1zM743.4 1143.4h22.1v22.1h-22.1zM747.2 144.1h22.1v22.1h-22.1zM747.2 509.9h22.1v22.1h-22.1zM747.2 747.5h22.1v22.1h-22.1zM747.2 751.2h22.1v22.1h-22.1zM747.2 755.0h22.1v22.1h-22.1zM747.2 894.5h22.1v22.1h-22.1zM747.2 898.3h22.1v22.1h-22.1zM747.2 902.1h22.1v22.1h-22.1zM747.2 905.8h22.1v22.1h-22.1zM747.2 909.6h22.1v22.1h-22.1zM747.2 913.4h22.1v22.1h-22.1zM747.2 917.1h22.1v22.1h-22.1zM747.2 920.9h22.1v22.1h-22.1zM747.2 924.7h22.1v22.1h-22.1zM747.2 928.5h22.1v22.1h-22.1zM747.2 932.2h22.1v22.1h-22.1zM747.2 936.0h22.1v22.1h-22.1zM747.2 939.8h22.1v22.1h-22.1zM747.2 1068.0h22.1v22.1h-22.1zM747.2 1071.8h22.1v22.1h-22.1zM747.2 1075.5h22.1v22.1h-22.1zM747.2 1079.3h22.1v22.1h-22.1zM751.0 506.1h22.1v22.1h-22.1zM751.0 509.9h22.1v22.1h-22.1zM751.0 513.7h22.1v22.1h-22.1zM751.0 543.8h22.1v22.1h-22.1zM751.0 751.2h22.1v22.1h-22.1zM751.0 755.0h22.1v22.1h-22.1zM751.0 826.6h22.1v22.1h-22.1zM751.0 890.8h22.1v22.1h-22.1zM751.0 894.5h22.1v22.1h-22.1zM751.0 898.3h22.1v22.1h-22.1zM751.0 902.1h22.1v22.1h-22.1zM751.0 905.8h22.1v22.1h-22.1zM751.0 909.6h22.1v22.1h-22.1zM751.0 913.4h22.1v22.1h-22.1zM751.0 917.1h22.1v22.1h-22.1zM751.0 920.9h22.1v22.1h-22.1zM751.0 924.7h22.1v22.1h-22.1zM751.0 928.5h22.1v22.1h-22.1zM751.0 932.2h22.1v22.1h-22.1zM751.0 936.0h22.1v22.1h-22.1zM751.0 939.8h22.1v22.1h-22.1zM754.7 890.8h22.1v22.1h-22.1zM754.7 894.5h22.1v22.1h-22.1zM754.7 898.3h22.1v22.1h-22.1zM754.7 902.1h22.1v22.1h-22.1zM754.7 905.8h22.1v22.1h-22.1zM754.7 909.6h22.1v22.1h-22.1zM754.7 913.4h22.1v22.1h-22.1zM754.7 917.1h22.1v22.1h-22.1zM754.7 920.9h22.1v22.1h-22.1zM754.7 924.7h22.1v22.1h-22.1zM754.7 928.5h22.1v22.1h-22.1zM754.7 932.2h22.1v22.1h-22.1zM754.7 936.0h22.1v22.1h-22.1zM754.7 939.8h22.1v22.1h-22.1zM758.5 555.1h22.1v22.1h-22.1zM758.5 864.4h22.1v22.1h-22.1zM758.5 890.8h22.1v22.1h-22.1zM758.5 894.5h22.1v22.1h-22.1zM758.5 898.3h22.1v22.1h-22.1zM758.5 902.1h22.1v22.1h-22.1zM758.5 905.8h22.1v22.1h-22.1zM758.5 909.6h22.1v22.1h-22.1zM758.5 913.4h22.1v22.1h-22.1zM758.5 917.1h22.1v22.1h-22.1zM758.5 920.9h22.1v22.1h-22.1zM758.5 924.7h22.1v22.1h-22.1zM758.5 928.5h22.1v22.1h-22.1zM758.5 932.2h22.1v22.1h-22.1zM758.5 936.0h22.1v22.1h-22.1zM762.3 883.2h22.1v22.1h-22.1zM762.3 887.0h22.1v22.1h-22.1zM762.3 890.8h22.1v22.1h-22.1zM762.3 894.5h22.1v22.1h-22.1zM762.3 898.3h22.1v22.1h-22.1zM762.3 902.1h22.1v22.1h-22.1zM762.3 905.8h22.1v22.1h-22.1zM762.3 909.6h22.1v22.1h-22.1zM762.3 913.4h22.1v22.1h-22.1zM762.3 917.1h22.1v22.1h-22.1zM762.3 920.9h22.1v22.1h-22.1zM762.3 924.7h22.1v22.1h-22.1zM762.3 928.5h22.1v22.1h-22.1zM762.3 932.2h22.1v22.1h-22.1zM766.1 879.4h22.1v22.1h-22.1zM766.1 883.2h22.1v22.1h-22.1zM766.1 887.0h22.1v22.1h-22.1zM766.1 890.8h22.1v22.1h-22.1zM766.1 894.5h22.1v22.1h-22.1zM766.1 898.3h22.1v22.1h-22.1zM766.1 902.1h22.1v22.1h-22.1zM766.1 905.8h22.1v22.1h-22.1zM766.1 909.6h22.1v22.1h-22.1zM766.1 913.4h22.1v22.1h-22.1zM766.1 917.1h22.1v22.1h-22.1zM766.1 920.9h22.1v22.1h-22.1zM766.1 924.7h22.1v22.1h-22.1zM766.1 928.5h22.1v22.1h-22.1zM769.8 898.3h22.1v22.1h-22.1zM769.8 902.1h22.1v22.1h-22.1zM769.8 905.8h22.1v22.1h-22.1zM769.8 909.6h22.1v22.1h-22.1zM769.8 913.4h22.1v22.1h-22.1zM769.8 917.1h22.1v22.1h-22.1zM769.8 920.9h22.1v22.1h-22.1zM769.8 924.7h22.1v22.1h-22.1zM773.6 513.7h22.1v22.1h-22.1zM773.6 517.4h22.1v22.1h-22.1zM773.6 547.6h22.1v22.1h-22.1zM773.6 898.3h22.1v22.1h-22.1zM773.6 902.1h22.1v22.1h-22.1zM773.6 905.8h22.1v22.1h-22.1zM773.6 909.6h22.1v22.1h-22.1zM773.6 913.4h22.1v22.1h-22.1zM773.6 917.1h22.1v22.1h-22.1zM773.6 920.9h22.1v22.1h-22.1zM777.4 144.1h22.1v22.1h-22.1zM777.4 159.2h22.1v22.1h-22.1zM777.4 513.7h22.1v22.1h-22.1zM777.4 517.4h22.1v22.1h-22.1zM777.4 898.3h22.1v22.1h-22.1zM777.4 902.1h22.1v22.1h-22.1zM777.4 905.8h22.1v22.1h-22.1zM777.4 909.6h22.1v22.1h-22.1zM777.4 913.4h22.1v22.1h-22.1zM777.4 917.1h22.1v22.1h-22.1zM777.4 1071.8h22.1v22.1h-22.1zM781.1 140.3h22.1v22.1h-22.1zM781.1 144.1h22.1v22.1h-22.1zM781.1 147.9h22.1v22.1h-22.1zM781.1 155.4h22.1v22.1h-22.1zM781.1 159.2h22.1v22.1h-22.1zM781.1 513.7h22.1v22.1h-22.1zM781.1 517.4h22.1v22.1h-22.1zM781.1 521.2h22.1v22.1h-22.1zM784.9 144.1h22.1v22.1h-22.1zM784.9 151.6h22.1v22.1h-22.1zM784.9 159.2h22.1v22.1h-22.1zM784.9 162.9h22.1v22.1h-22.1zM784.9 170.5h22.1v22.1h-22.1zM784.9 513.7h22.1v22.1h-22.1zM784.9 517.4h22.1v22.1h-22.1zM784.9 521.2h22.1v22.1h-22.1zM788.7 147.9h22.1v22.1h-22.1zM788.7 155.4h22.1v22.1h-22.1zM788.7 162.9h22.1v22.1h-22.1zM788.7 517.4h22.1v22.1h-22.1zM788.7 521.2h22.1v22.1h-22.1zM792.5 144.1h22.1v22.1h-22.1zM792.5 151.6h22.1v22.1h-22.1zM792.5 159.2h22.1v22.1h-22.1zM796.2 147.9h22.1v22.1h-22.1zM796.2 155.4h22.1v22.1h-22.1zM796.2 162.9h22.1v22.1h-22.1zM796.2 174.3h22.1v22.1h-22.1zM796.2 215.7h22.1v22.1h-22.1zM796.2 219.5h22.1v22.1h-22.1zM800.0 151.6h22.1v22.1h-22.1zM800.0 159.2h22.1v22.1h-22.1zM800.0 185.6h22.1v22.1h-22.1zM800.0 215.7h22.1v22.1h-22.1zM800.0 219.5h22.1v22.1h-22.1zM803.8 147.9h22.1v22.1h-22.1zM803.8 155.4h22.1v22.1h-22.1zM803.8 162.9h22.1v22.1h-22.1zM803.8 193.1h22.1v22.1h-22.1zM803.8 196.9h22.1v22.1h-22.1zM803.8 208.2h22.1v22.1h-22.1zM803.8 215.7h22.1v22.1h-22.1zM803.8 219.5h22.1v22.1h-22.1zM803.8 238.4h22.1v22.1h-22.1zM807.5 125.2h22.1v22.1h-22.1zM807.5 151.6h22.1v22.1h-22.1zM807.5 159.2h22.1v22.1h-22.1zM811.3 129.0h22.1v22.1h-22.1zM811.3 155.4h22.1v22.1h-22.1zM811.3 162.9h22.1v22.1h-22.1zM811.3 200.7h22.1v22.1h-22.1zM811.3 249.7h22.1v22.1h-22.1zM811.3 1335.7h22.1v22.1h-22.1zM811.3 1339.5h22.1v22.1h-22.1zM811.3 1343.3h22.1v22.1h-22.1zM811.3 1347.0h22.1v22.1h-22.1zM815.1 132.8h22.1v22.1h-22.1zM815.1 151.6h22.1v22.1h-22.1zM815.1 159.2h22.1v22.1h-22.1zM815.1 434.5h22.1v22.1h-22.1zM815.1 442.0h22.1v22.1h-22.1zM815.1 1332.0h22.1v22.1h-22.1zM815.1 1335.7h22.1v22.1h-22.1zM815.1 1339.5h22.1v22.1h-22.1zM815.1 1343.3h22.1v22.1h-22.1zM815.1 1347.0h22.1v22.1h-22.1zM818.8 106.4h22.1v22.1h-22.1zM818.8 155.4h22.1v22.1h-22.1zM818.8 822.9h22.1v22.1h-22.1zM818.8 1328.2h22.1v22.1h-22.1zM818.8 1332.0h22.1v22.1h-22.1zM818.8 1335.7h22.1v22.1h-22.1zM818.8 1339.5h22.1v22.1h-22.1zM818.8 1343.3h22.1v22.1h-22.1zM822.6 91.3h22.1v22.1h-22.1zM822.6 102.6h22.1v22.1h-22.1zM822.6 151.6h22.1v22.1h-22.1zM822.6 826.6h22.1v22.1h-22.1zM822.6 830.4h22.1v22.1h-22.1zM822.6 834.2h22.1v22.1h-22.1zM822.6 1328.2h22.1v22.1h-22.1zM822.6 1332.0h22.1v22.1h-22.1zM822.6 1335.7h22.1v22.1h-22.1zM822.6 1339.5h22.1v22.1h-22.1zM826.4 80.0h22.1v22.1h-22.1zM826.4 91.3h22.1v22.1h-22.1zM826.4 95.1h22.1v22.1h-22.1zM826.4 106.4h22.1v22.1h-22.1zM826.4 155.4h22.1v22.1h-22.1zM826.4 826.6h22.1v22.1h-22.1zM826.4 830.4h22.1v22.1h-22.1zM826.4 834.2h22.1v22.1h-22.1zM826.4 1135.9h22.1v22.1h-22.1zM826.4 1143.4h22.1v22.1h-22.1zM826.4 1328.2h22.1v22.1h-22.1zM826.4 1332.0h22.1v22.1h-22.1zM826.4 1335.7h22.1v22.1h-22.1zM830.2 76.2h22.1v22.1h-22.1zM830.2 80.0h22.1v22.1h-22.1zM830.2 87.5h22.1v22.1h-22.1zM830.2 91.3h22.1v22.1h-22.1zM830.2 151.6h22.1v22.1h-22.1zM830.2 830.4h22.1v22.1h-22.1zM830.2 834.2h22.1v22.1h-22.1zM830.2 845.5h22.1v22.1h-22.1zM830.2 939.8h22.1v22.1h-22.1zM830.2 943.5h22.1v22.1h-22.1zM830.2 947.3h22.1v22.1h-22.1zM830.2 951.1h22.1v22.1h-22.1zM830.2 1143.4h22.1v22.1h-22.1zM830.2 1328.2h22.1v22.1h-22.1zM830.2 1332.0h22.1v22.1h-22.1zM830.2 1335.7h22.1v22.1h-22.1zM833.9 129.0h22.1v22.1h-22.1zM833.9 151.6h22.1v22.1h-22.1zM833.9 155.4h22.1v22.1h-22.1zM833.9 159.2h22.1v22.1h-22.1zM833.9 653.2h22.1v22.1h-22.1zM833.9 928.5h22.1v22.1h-22.1zM833.9 939.8h22.1v22.1h-22.1zM833.9 943.5h22.1v22.1h-22.1zM833.9 1007.7h22.1v22.1h-22.1zM833.9 1079.3h22.1v22.1h-22.1zM833.9 1143.4h22.1v22.1h-22.1zM833.9 1328.2h22.1v22.1h-22.1zM833.9 1332.0h22.1v22.1h-22.1zM837.7 129.0h22.1v22.1h-22.1zM837.7 144.1h22.1v22.1h-22.1zM837.7 151.6h22.1v22.1h-22.1zM837.7 159.2h22.1v22.1h-22.1zM837.7 162.9h22.1v22.1h-22.1zM837.7 509.9h22.1v22.1h-22.1zM837.7 653.2h22.1v22.1h-22.1zM837.7 657.0h22.1v22.1h-22.1zM837.7 1143.4h22.1v22.1h-22.1zM837.7 1328.2h22.1v22.1h-22.1zM837.7 1332.0h22.1v22.1h-22.1zM841.5 132.8h22.1v22.1h-22.1zM841.5 147.9h22.1v22.1h-22.1zM841.5 155.4h22.1v22.1h-22.1zM841.5 162.9h22.1v22.1h-22.1zM841.5 166.7h22.1v22.1h-22.1zM841.5 509.9h22.1v22.1h-22.1zM841.5 513.7h22.1v22.1h-22.1zM841.5 653.2h22.1v22.1h-22.1zM841.5 657.0h22.1v22.1h-22.1zM841.5 660.7h22.1v22.1h-22.1zM841.5 1071.8h22.1v22.1h-22.1zM841.5 1075.5h22.1v22.1h-22.1zM841.5 1143.4h22.1v22.1h-22.1zM841.5 1328.2h22.1v22.1h-22.1zM845.2 144.1h22.1v22.1h-22.1zM845.2 151.6h22.1v22.1h-22.1zM845.2 159.2h22.1v22.1h-22.1zM845.2 166.7h22.1v22.1h-22.1zM845.2 170.5h22.1v22.1h-22.1zM845.2 509.9h22.1v22.1h-22.1zM845.2 513.7h22.1v22.1h-22.1zM845.2 657.0h22.1v22.1h-22.1zM845.2 660.7h22.1v22.1h-22.1zM845.2 898.3h22.1v22.1h-22.1zM849.0 129.0h22.1v22.1h-22.1zM849.0 147.9h22.1v22.1h-22.1zM849.0 155.4h22.1v22.1h-22.1zM849.0 162.9h22.1v22.1h-22.1zM849.0 170.5h22.1v22.1h-22.1zM849.0 502.3h22.1v22.1h-22.1zM849.0 506.1h22.1v22.1h-22.1zM849.0 509.9h22.1v22.1h-22.1zM852.8 129.0h22.1v22.1h-22.1zM852.8 132.8h22.1v22.1h-22.1zM852.8 151.6h22.1v22.1h-22.1zM852.8 159.2h22.1v22.1h-22.1zM852.8 166.7h22.1v22.1h-22.1zM852.8 170.5h22.1v22.1h-22.1zM852.8 178.0h22.1v22.1h-22.1zM852.8 442.0h22.1v22.1h-22.1zM852.8 502.3h22.1v22.1h-22.1zM852.8 506.1h22.1v22.1h-22.1zM856.6 155.4h22.1v22.1h-22.1zM856.6 159.2h22.1v22.1h-22.1zM856.6 162.9h22.1v22.1h-22.1zM856.6 166.7h22.1v22.1h-22.1zM856.6 170.5h22.1v22.1h-22.1zM856.6 174.3h22.1v22.1h-22.1zM856.6 178.0h22.1v22.1h-22.1zM856.6 442.0h22.1v22.1h-22.1zM856.6 445.8h22.1v22.1h-22.1zM856.6 498.6h22.1v22.1h-22.1zM856.6 502.3h22.1v22.1h-22.1zM860.3 102.6h22.1v22.1h-22.1zM860.3 430.7h22.1v22.1h-22.1zM860.3 434.5h22.1v22.1h-22.1zM860.3 442.0h22.1v22.1h-22.1zM860.3 445.8h22.1v22.1h-22.1zM860.3 498.6h22.1v22.1h-22.1zM860.3 502.3h22.1v22.1h-22.1zM860.3 1339.5h22.1v22.1h-22.1zM864.1 98.8h22.1v22.1h-22.1zM864.1 102.6h22.1v22.1h-22.1zM864.1 498.6h22.1v22.1h-22.1zM864.1 502.3h22.1v22.1h-22.1zM867.9 87.5h22.1v22.1h-22.1zM867.9 91.3h22.1v22.1h-22.1zM867.9 95.1h22.1v22.1h-22.1zM867.9 98.8h22.1v22.1h-22.1zM867.9 102.6h22.1v22.1h-22.1zM867.9 951.1h22.1v22.1h-22.1zM867.9 954.9h22.1v22.1h-22.1zM871.6 87.5h22.1v22.1h-22.1zM871.6 91.3h22.1v22.1h-22.1zM871.6 98.8h22.1v22.1h-22.1zM871.6 102.6h22.1v22.1h-22.1zM871.6 106.4h22.1v22.1h-22.1zM871.6 110.2h22.1v22.1h-22.1zM871.6 954.9h22.1v22.1h-22.1zM875.4 83.8h22.1v22.1h-22.1zM875.4 87.5h22.1v22.1h-22.1zM875.4 91.3h22.1v22.1h-22.1zM875.4 95.1h22.1v22.1h-22.1zM875.4 98.8h22.1v22.1h-22.1zM875.4 102.6h22.1v22.1h-22.1zM879.2 87.5h22.1v22.1h-22.1zM879.2 951.1h22.1v22.1h-22.1zM879.2 954.9h22.1v22.1h-22.1zM886.7 426.9h22.1v22.1h-22.1zM886.7 430.7h22.1v22.1h-22.1zM890.5 423.1h22.1v22.1h-22.1zM890.5 438.2h22.1v22.1h-22.1zM890.5 442.0h22.1v22.1h-22.1zM890.5 445.8h22.1v22.1h-22.1zM890.5 449.5h22.1v22.1h-22.1zM890.5 453.3h22.1v22.1h-22.1zM890.5 457.1h22.1v22.1h-22.1zM890.5 498.6h22.1v22.1h-22.1zM894.3 189.3h22.1v22.1h-22.1zM894.3 423.1h22.1v22.1h-22.1zM894.3 426.9h22.1v22.1h-22.1zM894.3 430.7h22.1v22.1h-22.1zM894.3 434.5h22.1v22.1h-22.1zM894.3 438.2h22.1v22.1h-22.1zM894.3 442.0h22.1v22.1h-22.1zM894.3 445.8h22.1v22.1h-22.1zM894.3 449.5h22.1v22.1h-22.1zM894.3 453.3h22.1v22.1h-22.1zM898.0 426.9h22.1v22.1h-22.1zM898.0 430.7h22.1v22.1h-22.1zM898.0 434.5h22.1v22.1h-22.1zM898.0 438.2h22.1v22.1h-22.1zM898.0 442.0h22.1v22.1h-22.1zM898.0 445.8h22.1v22.1h-22.1zM898.0 449.5h22.1v22.1h-22.1zM898.0 494.8h22.1v22.1h-22.1zM898.0 498.6h22.1v22.1h-22.1zM898.0 502.3h22.1v22.1h-22.1zM901.8 166.7h22.1v22.1h-22.1zM901.8 170.5h22.1v22.1h-22.1zM901.8 174.3h22.1v22.1h-22.1zM901.8 178.0h22.1v22.1h-22.1zM901.8 181.8h22.1v22.1h-22.1zM901.8 189.3h22.1v22.1h-22.1zM901.8 442.0h22.1v22.1h-22.1zM901.8 445.8h22.1v22.1h-22.1zM901.8 449.5h22.1v22.1h-22.1zM901.8 453.3h22.1v22.1h-22.1zM901.8 494.8h22.1v22.1h-22.1zM901.8 498.6h22.1v22.1h-22.1zM901.8 502.3h22.1v22.1h-22.1zM901.8 506.1h22.1v22.1h-22.1zM901.8 509.9h22.1v22.1h-22.1zM905.6 166.7h22.1v22.1h-22.1zM905.6 170.5h22.1v22.1h-22.1zM905.6 174.3h22.1v22.1h-22.1zM905.6 178.0h22.1v22.1h-22.1zM905.6 181.8h22.1v22.1h-22.1zM905.6 442.0h22.1v22.1h-22.1zM905.6 445.8h22.1v22.1h-22.1zM905.6 449.5h22.1v22.1h-22.1zM905.6 475.9h22.1v22.1h-22.1zM905.6 494.8h22.1v22.1h-22.1zM905.6 498.6h22.1v22.1h-22.1zM905.6 502.3h22.1v22.1h-22.1zM905.6 506.1h22.1v22.1h-22.1zM905.6 509.9h22.1v22.1h-22.1zM905.6 513.7h22.1v22.1h-22.1zM905.6 517.4h22.1v22.1h-22.1zM905.6 521.2h22.1v22.1h-22.1zM905.6 525.0h22.1v22.1h-22.1zM905.6 528.7h22.1v22.1h-22.1zM905.6 562.7h22.1v22.1h-22.1zM905.6 566.4h22.1v22.1h-22.1zM905.6 570.2h22.1v22.1h-22.1zM909.4 166.7h22.1v22.1h-22.1zM909.4 170.5h22.1v22.1h-22.1zM909.4 174.3h22.1v22.1h-22.1zM909.4 178.0h22.1v22.1h-22.1zM909.4 181.8h22.1v22.1h-22.1zM909.4 445.8h22.1v22.1h-22.1zM909.4 494.8h22.1v22.1h-22.1zM909.4 498.6h22.1v22.1h-22.1zM909.4 502.3h22.1v22.1h-22.1zM909.4 506.1h22.1v22.1h-22.1zM909.4 509.9h22.1v22.1h-22.1zM909.4 513.7h22.1v22.1h-22.1zM909.4 517.4h22.1v22.1h-22.1zM909.4 521.2h22.1v22.1h-22.1zM909.4 525.0h22.1v22.1h-22.1zM909.4 528.7h22.1v22.1h-22.1zM909.4 543.8h22.1v22.1h-22.1zM909.4 547.6h22.1v22.1h-22.1zM909.4 551.4h22.1v22.1h-22.1zM909.4 562.7h22.1v22.1h-22.1zM909.4 566.4h22.1v22.1h-22.1zM909.4 570.2h22.1v22.1h-22.1zM913.1 155.4h22.1v22.1h-22.1zM913.1 166.7h22.1v22.1h-22.1zM913.1 170.5h22.1v22.1h-22.1zM913.1 174.3h22.1v22.1h-22.1zM913.1 178.0h22.1v22.1h-22.1zM913.1 181.8h22.1v22.1h-22.1zM913.1 445.8h22.1v22.1h-22.1zM913.1 494.8h22.1v22.1h-22.1zM913.1 498.6h22.1v22.1h-22.1zM913.1 502.3h22.1v22.1h-22.1zM913.1 506.1h22.1v22.1h-22.1zM913.1 509.9h22.1v22.1h-22.1zM913.1 513.7h22.1v22.1h-22.1zM913.1 562.7h22.1v22.1h-22.1zM913.1 566.4h22.1v22.1h-22.1zM913.1 570.2h22.1v22.1h-22.1zM913.1 728.6h22.1v22.1h-22.1zM916.9 494.8h22.1v22.1h-22.1zM916.9 498.6h22.1v22.1h-22.1zM916.9 502.3h22.1v22.1h-22.1zM916.9 506.1h22.1v22.1h-22.1zM916.9 509.9h22.1v22.1h-22.1zM916.9 660.7h22.1v22.1h-22.1zM916.9 732.4h22.1v22.1h-22.1zM916.9 736.1h22.1v22.1h-22.1zM916.9 939.8h22.1v22.1h-22.1zM920.7 498.6h22.1v22.1h-22.1zM920.7 502.3h22.1v22.1h-22.1zM920.7 506.1h22.1v22.1h-22.1zM920.7 509.9h22.1v22.1h-22.1zM920.7 732.4h22.1v22.1h-22.1zM920.7 736.1h22.1v22.1h-22.1zM920.7 739.9h22.1v22.1h-22.1zM920.7 939.8h22.1v22.1h-22.1zM920.7 947.3h22.1v22.1h-22.1zM920.7 951.1h22.1v22.1h-22.1zM924.4 87.5h22.1v22.1h-22.1zM924.4 91.3h22.1v22.1h-22.1zM924.4 98.8h22.1v22.1h-22.1zM924.4 102.6h22.1v22.1h-22.1zM924.4 498.6h22.1v22.1h-22.1zM924.4 502.3h22.1v22.1h-22.1zM924.4 506.1h22.1v22.1h-22.1zM924.4 732.4h22.1v22.1h-22.1zM924.4 736.1h22.1v22.1h-22.1zM924.4 739.9h22.1v22.1h-22.1zM924.4 943.5h22.1v22.1h-22.1zM924.4 947.3h22.1v22.1h-22.1zM924.4 951.1h22.1v22.1h-22.1zM924.4 1332.0h22.1v22.1h-22.1zM928.2 87.5h22.1v22.1h-22.1zM928.2 91.3h22.1v22.1h-22.1zM928.2 102.6h22.1v22.1h-22.1zM928.2 498.6h22.1v22.1h-22.1zM928.2 502.3h22.1v22.1h-22.1zM928.2 506.1h22.1v22.1h-22.1zM928.2 943.5h22.1v22.1h-22.1zM928.2 947.3h22.1v22.1h-22.1zM928.2 951.1h22.1v22.1h-22.1zM928.2 954.9h22.1v22.1h-22.1zM932.0 457.1h22.1v22.1h-22.1zM932.0 498.6h22.1v22.1h-22.1zM932.0 502.3h22.1v22.1h-22.1zM932.0 943.5h22.1v22.1h-22.1zM932.0 947.3h22.1v22.1h-22.1zM932.0 951.1h22.1v22.1h-22.1zM935.8 498.6h22.1v22.1h-22.1zM935.8 502.3h22.1v22.1h-22.1zM935.8 506.1h22.1v22.1h-22.1zM935.8 739.9h22.1v22.1h-22.1zM935.8 943.5h22.1v22.1h-22.1zM935.8 947.3h22.1v22.1h-22.1zM935.8 951.1h22.1v22.1h-22.1zM939.5 506.1h22.1v22.1h-22.1zM939.5 943.5h22.1v22.1h-22.1zM939.5 947.3h22.1v22.1h-22.1zM950.8 555.1h22.1v22.1h-22.1zM954.6 555.1h22.1v22.1h-22.1zM954.6 668.3h22.1v22.1h-22.1zM965.9 551.4h22.1v22.1h-22.1zM965.9 555.1h22.1v22.1h-22.1zM969.7 551.4h22.1v22.1h-22.1zM969.7 675.8h22.1v22.1h-22.1zM973.5 555.1h22.1v22.1h-22.1zM973.5 672.0h22.1v22.1h-22.1zM973.5 675.8h22.1v22.1h-22.1zM977.2 551.4h22.1v22.1h-22.1zM977.2 672.0h22.1v22.1h-22.1zM977.2 675.8h22.1v22.1h-22.1zM981.0 540.0h22.1v22.1h-22.1zM981.0 543.8h22.1v22.1h-22.1zM981.0 547.6h22.1v22.1h-22.1zM981.0 551.4h22.1v22.1h-22.1zM981.0 555.1h22.1v22.1h-22.1zM981.0 660.7h22.1v22.1h-22.1zM981.0 664.5h22.1v22.1h-22.1zM981.0 668.3h22.1v22.1h-22.1zM981.0 672.0h22.1v22.1h-22.1zM981.0 675.8h22.1v22.1h-22.1zM984.8 506.1h22.1v22.1h-22.1zM984.8 509.9h22.1v22.1h-22.1zM984.8 513.7h22.1v22.1h-22.1zM984.8 517.4h22.1v22.1h-22.1zM984.8 521.2h22.1v22.1h-22.1zM984.8 532.5h22.1v22.1h-22.1zM984.8 536.3h22.1v22.1h-22.1zM984.8 540.0h22.1v22.1h-22.1zM984.8 543.8h22.1v22.1h-22.1zM984.8 547.6h22.1v22.1h-22.1zM984.8 551.4h22.1v22.1h-22.1zM984.8 555.1h22.1v22.1h-22.1zM984.8 653.2h22.1v22.1h-22.1zM984.8 657.0h22.1v22.1h-22.1zM984.8 660.7h22.1v22.1h-22.1zM984.8 664.5h22.1v22.1h-22.1zM984.8 668.3h22.1v22.1h-22.1zM984.8 672.0h22.1v22.1h-22.1zM984.8 675.8h22.1v22.1h-22.1zM988.5 506.1h22.1v22.1h-22.1zM988.5 509.9h22.1v22.1h-22.1zM988.5 513.7h22.1v22.1h-22.1zM988.5 517.4h22.1v22.1h-22.1zM988.5 521.2h22.1v22.1h-22.1zM988.5 532.5h22.1v22.1h-22.1zM988.5 536.3h22.1v22.1h-22.1zM988.5 540.0h22.1v22.1h-22.1zM988.5 543.8h22.1v22.1h-22.1zM988.5 547.6h22.1v22.1h-22.1zM988.5 551.4h22.1v22.1h-22.1zM988.5 555.1h22.1v22.1h-22.1zM988.5 653.2h22.1v22.1h-22.1zM988.5 657.0h22.1v22.1h-22.1zM988.5 660.7h22.1v22.1h-22.1zM988.5 664.5h22.1v22.1h-22.1zM988.5 668.3h22.1v22.1h-22.1zM988.5 672.0h22.1v22.1h-22.1zM988.5 675.8h22.1v22.1h-22.1zM988.5 679.6h22.1v22.1h-22.1zM988.5 683.3h22.1v22.1h-22.1zM988.5 687.1h22.1v22.1h-22.1zM988.5 755.0h22.1v22.1h-22.1zM992.3 506.1h22.1v22.1h-22.1zM992.3 509.9h22.1v22.1h-22.1zM992.3 513.7h22.1v22.1h-22.1zM992.3 517.4h22.1v22.1h-22.1zM992.3 521.2h22.1v22.1h-22.1zM992.3 532.5h22.1v22.1h-22.1zM992.3 536.3h22.1v22.1h-22.1zM992.3 540.0h22.1v22.1h-22.1zM992.3 543.8h22.1v22.1h-22.1zM992.3 547.6h22.1v22.1h-22.1zM992.3 551.4h22.1v22.1h-22.1zM992.3 653.2h22.1v22.1h-22.1zM992.3 657.0h22.1v22.1h-22.1zM992.3 660.7h22.1v22.1h-22.1zM992.3 664.5h22.1v22.1h-22.1zM992.3 668.3h22.1v22.1h-22.1zM992.3 672.0h22.1v22.1h-22.1zM992.3 675.8h22.1v22.1h-22.1zM992.3 679.6h22.1v22.1h-22.1zM992.3 683.3h22.1v22.1h-22.1zM992.3 687.1h22.1v22.1h-22.1zM996.1 509.9h22.1v22.1h-22.1zM996.1 517.4h22.1v22.1h-22.1zM996.1 540.0h22.1v22.1h-22.1zM996.1 543.8h22.1v22.1h-22.1zM996.1 638.1h22.1v22.1h-22.1zM996.1 641.9h22.1v22.1h-22.1zM996.1 645.6h22.1v22.1h-22.1zM996.1 649.4h22.1v22.1h-22.1zM996.1 653.2h22.1v22.1h-22.1zM996.1 657.0h22.1v22.1h-22.1zM996.1 660.7h22.1v22.1h-22.1zM996.1 664.5h22.1v22.1h-22.1zM996.1 668.3h22.1v22.1h-22.1zM996.1 672.0h22.1v22.1h-22.1zM996.1 675.8h22.1v22.1h-22.1zM996.1 679.6h22.1v22.1h-22.1zM996.1 683.3h22.1v22.1h-22.1zM996.1 687.1h22.1v22.1h-22.1zM999.9 638.1h22.1v22.1h-22.1zM999.9 641.9h22.1v22.1h-22.1zM999.9 645.6h22.1v22.1h-22.1zM999.9 649.4h22.1v22.1h-22.1zM999.9 653.2h22.1v22.1h-22.1zM999.9 657.0h22.1v22.1h-22.1zM999.9 660.7h22.1v22.1h-22.1zM999.9 664.5h22.1v22.1h-22.1zM999.9 668.3h22.1v22.1h-22.1zM999.9 672.0h22.1v22.1h-22.1zM999.9 675.8h22.1v22.1h-22.1zM999.9 679.6h22.1v22.1h-22.1zM999.9 683.3h22.1v22.1h-22.1zM999.9 687.1h22.1v22.1h-22.1zM1003.6 638.1h22.1v22.1h-22.1zM1003.6 641.9h22.1v22.1h-22.1zM1003.6 645.6h22.1v22.1h-22.1zM1003.6 649.4h22.1v22.1h-22.1zM1003.6 653.2h22.1v22.1h-22.1zM1003.6 657.0h22.1v22.1h-22.1zM1003.6 660.7h22.1v22.1h-22.1zM1003.6 664.5h22.1v22.1h-22.1zM1003.6 668.3h22.1v22.1h-22.1zM1003.6 672.0h22.1v22.1h-22.1zM1003.6 675.8h22.1v22.1h-22.1zM1003.6 679.6h22.1v22.1h-22.1zM1003.6 683.3h22.1v22.1h-22.1zM1003.6 687.1h22.1v22.1h-22.1zM1007.4 634.3h22.1v22.1h-22.1zM1007.4 638.1h22.1v22.1h-22.1zM1007.4 641.9h22.1v22.1h-22.1zM1007.4 645.6h22.1v22.1h-22.1zM1007.4 649.4h22.1v22.1h-22.1zM1007.4 653.2h22.1v22.1h-22.1zM1007.4 657.0h22.1v22.1h-22.1zM1007.4 660.7h22.1v22.1h-22.1zM1007.4 664.5h22.1v22.1h-22.1zM1007.4 668.3h22.1v22.1h-22.1zM1007.4 672.0h22.1v22.1h-22.1zM1007.4 675.8h22.1v22.1h-22.1zM1007.4 679.6h22.1v22.1h-22.1zM1007.4 683.3h22.1v22.1h-22.1zM1007.4 687.1h22.1v22.1h-22.1zM1007.4 1071.8h22.1v22.1h-22.1zM1011.2 638.1h22.1v22.1h-22.1zM1011.2 641.9h22.1v22.1h-22.1zM1011.2 645.6h22.1v22.1h-22.1zM1011.2 649.4h22.1v22.1h-22.1zM1011.2 653.2h22.1v22.1h-22.1zM1011.2 657.0h22.1v22.1h-22.1zM1011.2 660.7h22.1v22.1h-22.1zM1011.2 664.5h22.1v22.1h-22.1zM1011.2 668.3h22.1v22.1h-22.1zM1011.2 672.0h22.1v22.1h-22.1zM1011.2 675.8h22.1v22.1h-22.1zM1011.2 679.6h22.1v22.1h-22.1zM1011.2 683.3h22.1v22.1h-22.1zM1014.9 641.9h22.1v22.1h-22.1zM1014.9 645.6h22.1v22.1h-22.1zM1014.9 649.4h22.1v22.1h-22.1zM1014.9 653.2h22.1v22.1h-22.1zM1014.9 657.0h22.1v22.1h-22.1zM1014.9 660.7h22.1v22.1h-22.1zM1014.9 664.5h22.1v22.1h-22.1zM1014.9 668.3h22.1v22.1h-22.1zM1014.9 672.0h22.1v22.1h-22.1zM1014.9 675.8h22.1v22.1h-22.1zM1014.9 679.6h22.1v22.1h-22.1zM1014.9 1060.4h22.1v22.1h-22.1zM1018.7 645.6h22.1v22.1h-22.1zM1018.7 649.4h22.1v22.1h-22.1zM1018.7 653.2h22.1v22.1h-22.1zM1018.7 657.0h22.1v22.1h-22.1zM1018.7 660.7h22.1v22.1h-22.1zM1018.7 664.5h22.1v22.1h-22.1zM1018.7 668.3h22.1v22.1h-22.1zM1018.7 672.0h22.1v22.1h-22.1zM1018.7 675.8h22.1v22.1h-22.1zM1018.7 743.7h22.1v22.1h-22.1zM1018.7 1079.3h22.1v22.1h-22.1zM1022.5 649.4h22.1v22.1h-22.1zM1022.5 653.2h22.1v22.1h-22.1zM1022.5 657.0h22.1v22.1h-22.1zM1022.5 660.7h22.1v22.1h-22.1zM1022.5 664.5h22.1v22.1h-22.1zM1022.5 668.3h22.1v22.1h-22.1zM1022.5 672.0h22.1v22.1h-22.1zM1026.3 653.2h22.1v22.1h-22.1zM1026.3 657.0h22.1v22.1h-22.1zM1026.3 660.7h22.1v22.1h-22.1zM1026.3 664.5h22.1v22.1h-22.1zM1026.3 668.3h22.1v22.1h-22.1zM1030.0 653.2h22.1v22.1h-22.1zM1030.0 657.0h22.1v22.1h-22.1zM1030.0 660.7h22.1v22.1h-22.1zM1030.0 664.5h22.1v22.1h-22.1zM1030.0 739.9h22.1v22.1h-22.1zM1030.0 743.7h22.1v22.1h-22.1zM1030.0 826.6h22.1v22.1h-22.1zM1030.0 830.4h22.1v22.1h-22.1zM1033.8 739.9h22.1v22.1h-22.1zM1033.8 743.7h22.1v22.1h-22.1zM1033.8 834.2h22.1v22.1h-22.1zM1033.8 838.0h22.1v22.1h-22.1zM1033.8 841.7h22.1v22.1h-22.1zM1033.8 845.5h22.1v22.1h-22.1zM1033.8 849.3h22.1v22.1h-22.1zM1037.6 76.2h22.1v22.1h-22.1zM1037.6 87.5h22.1v22.1h-22.1zM1037.6 739.9h22.1v22.1h-22.1zM1037.6 830.4h22.1v22.1h-22.1zM1037.6 834.2h22.1v22.1h-22.1zM1037.6 838.0h22.1v22.1h-22.1zM1037.6 841.7h22.1v22.1h-22.1zM1037.6 845.5h22.1v22.1h-22.1zM1037.6 849.3h22.1v22.1h-22.1zM1041.3 83.8h22.1v22.1h-22.1zM1041.3 91.3h22.1v22.1h-22.1zM1041.3 739.9h22.1v22.1h-22.1zM1041.3 777.6h22.1v22.1h-22.1zM1041.3 788.9h22.1v22.1h-22.1zM1041.3 830.4h22.1v22.1h-22.1zM1041.3 834.2h22.1v22.1h-22.1zM1041.3 838.0h22.1v22.1h-22.1zM1041.3 841.7h22.1v22.1h-22.1zM1041.3 845.5h22.1v22.1h-22.1zM1045.1 80.0h22.1v22.1h-22.1zM1045.1 87.5h22.1v22.1h-22.1zM1045.1 777.6h22.1v22.1h-22.1zM1045.1 781.4h22.1v22.1h-22.1zM1045.1 788.9h22.1v22.1h-22.1zM1045.1 838.0h22.1v22.1h-22.1zM1048.9 72.4h22.1v22.1h-22.1zM1048.9 76.2h22.1v22.1h-22.1zM1048.9 80.0h22.1v22.1h-22.1zM1052.7 72.4h22.1v22.1h-22.1zM1052.7 76.2h22.1v22.1h-22.1zM1052.7 83.8h22.1v22.1h-22.1zM1056.4 72.4h22.1v22.1h-22.1zM1097.9 653.2h22.1v22.1h-22.1zM1097.9 743.7h22.1v22.1h-22.1zM1097.9 1139.6h22.1v22.1h-22.1zM1097.9 1143.4h22.1v22.1h-22.1zM1101.7 1139.6h22.1v22.1h-22.1zM1101.7 1143.4h22.1v22.1h-22.1zM1101.7 1147.2h22.1v22.1h-22.1zM1101.7 1151.0h22.1v22.1h-22.1zM1105.4 1147.2h22.1v22.1h-22.1zM1113.0 1151.0h22.1v22.1h-22.1zM1113.0 1207.5h22.1v22.1h-22.1zM1146.9 645.6h22.1v22.1h-22.1zM1150.7 641.9h22.1v22.1h-22.1zM1150.7 645.6h22.1v22.1h-22.1zM1150.7 924.7h22.1v22.1h-22.1zM1150.7 1151.0h22.1v22.1h-22.1zM1154.5 634.3h22.1v22.1h-22.1zM1154.5 638.1h22.1v22.1h-22.1zM1154.5 641.9h22.1v22.1h-22.1zM1154.5 645.6h22.1v22.1h-22.1zM1154.5 649.4h22.1v22.1h-22.1zM1154.5 653.2h22.1v22.1h-22.1zM1154.5 1158.5h22.1v22.1h-22.1zM1158.2 641.9h22.1v22.1h-22.1zM1158.2 645.6h22.1v22.1h-22.1zM1158.2 649.4h22.1v22.1h-22.1zM1158.2 653.2h22.1v22.1h-22.1zM1158.2 657.0h22.1v22.1h-22.1zM1158.2 1158.5h22.1v22.1h-22.1zM1158.2 1162.3h22.1v22.1h-22.1zM1158.2 1207.5h22.1v22.1h-22.1zM1162.0 140.3h22.1v22.1h-22.1zM1162.0 144.1h22.1v22.1h-22.1zM1162.0 641.9h22.1v22.1h-22.1zM1162.0 645.6h22.1v22.1h-22.1zM1162.0 649.4h22.1v22.1h-22.1zM1162.0 653.2h22.1v22.1h-22.1zM1162.0 657.0h22.1v22.1h-22.1zM1162.0 687.1h22.1v22.1h-22.1zM1162.0 751.2h22.1v22.1h-22.1zM1162.0 917.1h22.1v22.1h-22.1zM1162.0 1162.3h22.1v22.1h-22.1zM1165.8 645.6h22.1v22.1h-22.1zM1165.8 649.4h22.1v22.1h-22.1zM1165.8 653.2h22.1v22.1h-22.1zM1165.8 657.0h22.1v22.1h-22.1zM1165.8 751.2h22.1v22.1h-22.1zM1165.8 1207.5h22.1v22.1h-22.1zM1169.6 645.6h22.1v22.1h-22.1zM1169.6 649.4h22.1v22.1h-22.1zM1169.6 653.2h22.1v22.1h-22.1zM1169.6 657.0h22.1v22.1h-22.1zM1169.6 743.7h22.1v22.1h-22.1zM1169.6 928.5h22.1v22.1h-22.1zM1177.1 1237.7h22.1v22.1h-22.1zM1177.1 1324.4h22.1v22.1h-22.1zM1180.9 80.0h22.1v22.1h-22.1zM1180.9 1237.7h22.1v22.1h-22.1zM1180.9 1241.5h22.1v22.1h-22.1zM1180.9 1245.2h22.1v22.1h-22.1zM1180.9 1324.4h22.1v22.1h-22.1zM1184.6 1237.7h22.1v22.1h-22.1zM1184.6 1241.5h22.1v22.1h-22.1zM1184.6 1245.2h22.1v22.1h-22.1zM1184.6 1249.0h22.1v22.1h-22.1zM1184.6 1316.9h22.1v22.1h-22.1zM1184.6 1320.6h22.1v22.1h-22.1zM1184.6 1324.4h22.1v22.1h-22.1zM1188.4 1241.5h22.1v22.1h-22.1zM1188.4 1245.2h22.1v22.1h-22.1zM1188.4 1316.9h22.1v22.1h-22.1zM1188.4 1320.6h22.1v22.1h-22.1zM1188.4 1324.4h22.1v22.1h-22.1zM1192.2 1245.2h22.1v22.1h-22.1zM1192.2 1301.8h22.1v22.1h-22.1zM1192.2 1316.9h22.1v22.1h-22.1zM1192.2 1320.6h22.1v22.1h-22.1zM1192.2 1324.4h22.1v22.1h-22.1zM1195.9 117.7h22.1v22.1h-22.1zM1195.9 1301.8h22.1v22.1h-22.1zM1195.9 1305.6h22.1v22.1h-22.1zM1195.9 1309.3h22.1v22.1h-22.1zM1195.9 1313.1h22.1v22.1h-22.1zM1195.9 1316.9h22.1v22.1h-22.1zM1195.9 1320.6h22.1v22.1h-22.1zM1195.9 1324.4h22.1v22.1h-22.1zM1199.7 1298.0h22.1v22.1h-22.1zM1199.7 1301.8h22.1v22.1h-22.1zM1199.7 1305.6h22.1v22.1h-22.1zM1199.7 1309.3h22.1v22.1h-22.1zM1199.7 1313.1h22.1v22.1h-22.1zM1199.7 1316.9h22.1v22.1h-22.1zM1199.7 1320.6h22.1v22.1h-22.1zM1199.7 1324.4h22.1v22.1h-22.1zM1203.5 1298.0h22.1v22.1h-22.1zM1203.5 1301.8h22.1v22.1h-22.1zM1203.5 1305.6h22.1v22.1h-22.1zM1203.5 1309.3h22.1v22.1h-22.1zM1203.5 1313.1h22.1v22.1h-22.1zM1203.5 1316.9h22.1v22.1h-22.1zM1203.5 1320.6h22.1v22.1h-22.1zM1203.5 1324.4h22.1v22.1h-22.1zM1207.3 1298.0h22.1v22.1h-22.1zM1207.3 1301.8h22.1v22.1h-22.1zM1207.3 1305.6h22.1v22.1h-22.1zM1207.3 1309.3h22.1v22.1h-22.1zM1207.3 1313.1h22.1v22.1h-22.1zM1207.3 1316.9h22.1v22.1h-22.1zM1207.3 1320.6h22.1v22.1h-22.1zM1207.3 1324.4h22.1v22.1h-22.1zM1207.3 1354.6h22.1v22.1h-22.1zM1211.0 110.2h22.1v22.1h-22.1zM1211.0 113.9h22.1v22.1h-22.1zM1211.0 117.7h22.1v22.1h-22.1zM1211.0 1309.3h22.1v22.1h-22.1zM1211.0 1313.1h22.1v22.1h-22.1zM1211.0 1316.9h22.1v22.1h-22.1zM1211.0 1320.6h22.1v22.1h-22.1zM1211.0 1324.4h22.1v22.1h-22.1zM1211.0 1328.2h22.1v22.1h-22.1zM1211.0 1350.8h22.1v22.1h-22.1zM1211.0 1354.6h22.1v22.1h-22.1zM1214.8 110.2h22.1v22.1h-22.1zM1214.8 113.9h22.1v22.1h-22.1zM1214.8 117.7h22.1v22.1h-22.1zM1214.8 121.5h22.1v22.1h-22.1zM1214.8 1316.9h22.1v22.1h-22.1zM1214.8 1320.6h22.1v22.1h-22.1zM1214.8 1324.4h22.1v22.1h-22.1zM1214.8 1328.2h22.1v22.1h-22.1zM1214.8 1332.0h22.1v22.1h-22.1zM1218.6 95.1h22.1v22.1h-22.1zM1218.6 98.8h22.1v22.1h-22.1zM1218.6 102.6h22.1v22.1h-22.1zM1218.6 110.2h22.1v22.1h-22.1zM1218.6 113.9h22.1v22.1h-22.1zM1218.6 117.7h22.1v22.1h-22.1zM1218.6 121.5h22.1v22.1h-22.1zM1218.6 1316.9h22.1v22.1h-22.1zM1218.6 1320.6h22.1v22.1h-22.1zM1218.6 1324.4h22.1v22.1h-22.1zM1218.6 1328.2h22.1v22.1h-22.1zM1218.6 1332.0h22.1v22.1h-22.1zM1218.6 1335.7h22.1v22.1h-22.1zM1222.3 83.8h22.1v22.1h-22.1zM1222.3 87.5h22.1v22.1h-22.1zM1222.3 91.3h22.1v22.1h-22.1zM1222.3 110.2h22.1v22.1h-22.1zM1222.3 113.9h22.1v22.1h-22.1zM1222.3 117.7h22.1v22.1h-22.1zM1222.3 121.5h22.1v22.1h-22.1zM1222.3 1320.6h22.1v22.1h-22.1zM1222.3 1324.4h22.1v22.1h-22.1zM1222.3 1328.2h22.1v22.1h-22.1zM1222.3 1332.0h22.1v22.1h-22.1zM1222.3 1335.7h22.1v22.1h-22.1zM1226.1 80.0h22.1v22.1h-22.1zM1226.1 83.8h22.1v22.1h-22.1zM1226.1 110.2h22.1v22.1h-22.1zM1226.1 113.9h22.1v22.1h-22.1zM1226.1 117.7h22.1v22.1h-22.1zM1226.1 121.5h22.1v22.1h-22.1zM1226.1 736.1h22.1v22.1h-22.1zM1226.1 1320.6h22.1v22.1h-22.1zM1226.1 1324.4h22.1v22.1h-22.1zM1226.1 1328.2h22.1v22.1h-22.1zM1226.1 1332.0h22.1v22.1h-22.1zM1226.1 1335.7h22.1v22.1h-22.1zM1229.9 80.0h22.1v22.1h-22.1zM1229.9 1007.7h22.1v22.1h-22.1zM1229.9 1011.4h22.1v22.1h-22.1zM1229.9 1324.4h22.1v22.1h-22.1zM1229.9 1328.2h22.1v22.1h-22.1zM1229.9 1332.0h22.1v22.1h-22.1zM1233.7 129.0h22.1v22.1h-22.1zM1233.7 653.2h22.1v22.1h-22.1zM1233.7 736.1h22.1v22.1h-22.1zM1233.7 739.9h22.1v22.1h-22.1zM1233.7 743.7h22.1v22.1h-22.1zM1233.7 747.5h22.1v22.1h-22.1zM1233.7 751.2h22.1v22.1h-22.1zM1233.7 1007.7h22.1v22.1h-22.1zM1233.7 1011.4h22.1v22.1h-22.1zM1233.7 1324.4h22.1v22.1h-22.1zM1233.7 1328.2h22.1v22.1h-22.1zM1233.7 1332.0h22.1v22.1h-22.1zM1237.4 132.8h22.1v22.1h-22.1zM1237.4 1011.4h22.1v22.1h-22.1zM1237.4 1015.2h22.1v22.1h-22.1zM1237.4 1237.7h22.1v22.1h-22.1zM1237.4 1241.5h22.1v22.1h-22.1zM1237.4 1249.0h22.1v22.1h-22.1zM1237.4 1320.6h22.1v22.1h-22.1zM1237.4 1324.4h22.1v22.1h-22.1zM1237.4 1328.2h22.1v22.1h-22.1zM1241.2 1011.4h22.1v22.1h-22.1zM1241.2 1022.7h22.1v22.1h-22.1zM1241.2 1060.4h22.1v22.1h-22.1zM1241.2 1320.6h22.1v22.1h-22.1zM1241.2 1324.4h22.1v22.1h-22.1zM1245.0 1249.0h22.1v22.1h-22.1zM1245.0 1320.6h22.1v22.1h-22.1zM1245.0 1324.4h22.1v22.1h-22.1zM1248.7 1064.2h22.1v22.1h-22.1zM1248.7 1068.0h22.1v22.1h-22.1zM1252.5 136.6h22.1v22.1h-22.1zM1252.5 140.3h22.1v22.1h-22.1zM1252.5 1068.0h22.1v22.1h-22.1zM1252.5 1071.8h22.1v22.1h-22.1zM1256.3 132.8h22.1v22.1h-22.1zM1256.3 136.6h22.1v22.1h-22.1zM1256.3 140.3h22.1v22.1h-22.1zM1256.3 144.1h22.1v22.1h-22.1zM1256.3 147.9h22.1v22.1h-22.1zM1260.1 132.8h22.1v22.1h-22.1zM1260.1 136.6h22.1v22.1h-22.1zM1260.1 140.3h22.1v22.1h-22.1zM1260.1 144.1h22.1v22.1h-22.1zM1260.1 147.9h22.1v22.1h-22.1zM1263.8 132.8h22.1v22.1h-22.1zM1263.8 136.6h22.1v22.1h-22.1zM1267.6 125.2h22.1v22.1h-22.1zM1267.6 234.6h22.1v22.1h-22.1zM1267.6 245.9h22.1v22.1h-22.1zM1267.6 249.7h22.1v22.1h-22.1zM1267.6 253.5h22.1v22.1h-22.1zM1267.6 257.2h22.1v22.1h-22.1zM1271.4 245.9h22.1v22.1h-22.1zM1271.4 249.7h22.1v22.1h-22.1zM1271.4 253.5h22.1v22.1h-22.1zM1271.4 257.2h22.1v22.1h-22.1zM1271.4 261.0h22.1v22.1h-22.1zM1271.4 272.3h22.1v22.1h-22.1zM1271.4 1313.1h22.1v22.1h-22.1zM1275.1 257.2h22.1v22.1h-22.1zM1275.1 1313.1h22.1v22.1h-22.1zM1275.1 1403.6h22.1v22.1h-22.1zM1275.1 1407.4h22.1v22.1h-22.1zM1275.1 1411.2h22.1v22.1h-22.1zM1275.1 1414.9h22.1v22.1h-22.1zM1290.2 136.6h22.1v22.1h-22.1zM1297.8 1022.7h22.1v22.1h-22.1zM1297.8 1068.0h22.1v22.1h-22.1zM1297.8 1075.5h22.1v22.1h-22.1zM1324.2 132.8h22.1v22.1h-22.1zM1327.9 132.8h22.1v22.1h-22.1zM1327.9 1086.8h22.1v22.1h-22.1zM1327.9 1090.6h22.1v22.1h-22.1zM1327.9 1094.4h22.1v22.1h-22.1zM1327.9 1147.2h22.1v22.1h-22.1zM1331.7 1090.6h22.1v22.1h-22.1zM1331.7 1094.4h22.1v22.1h-22.1zM1331.7 1098.2h22.1v22.1h-22.1zM1331.7 1147.2h22.1v22.1h-22.1zM1335.5 1090.6h22.1v22.1h-22.1zM1335.5 1094.4h22.1v22.1h-22.1zM1335.5 1098.2h22.1v22.1h-22.1zM1335.5 1101.9h22.1v22.1h-22.1zM1335.5 1411.2h22.1v22.1h-22.1zM1339.2 132.8h22.1v22.1h-22.1zM1339.2 1094.4h22.1v22.1h-22.1zM1339.2 1147.2h22.1v22.1h-22.1zM1339.2 1154.7h22.1v22.1h-22.1zM1339.2 1411.2h22.1v22.1h-22.1zM1343.0 1411.2h22.1v22.1h-22.1zM1343.0 1414.9h22.1v22.1h-22.1zM1346.8 1411.2h22.1v22.1h-22.1zM1346.8 1414.9h22.1v22.1h-22.1zM1350.6 1411.2h22.1v22.1h-22.1zM1350.6 1414.9h22.1v22.1h-22.1zM1354.3 1411.2h22.1v22.1h-22.1zM1354.3 1414.9h22.1v22.1h-22.1zM1358.1 1411.2h22.1v22.1h-22.1zM1358.1 1414.9h22.1v22.1h-22.1zM1361.9 1411.2h22.1v22.1h-22.1zM1361.9 1414.9h22.1v22.1h-22.1zM1365.6 1403.6h22.1v22.1h-22.1zM1365.6 1407.4h22.1v22.1h-22.1zM1365.6 1411.2h22.1v22.1h-22.1zM1365.6 1414.9h22.1v22.1h-22.1zM1369.4 1407.4h22.1v22.1h-22.1zM1369.4 1411.2h22.1v22.1h-22.1zM1373.2 1407.4h22.1v22.1h-22.1zM1373.2 1411.2h22.1v22.1h-22.1zM1377.0 1407.4h22.1v22.1h-22.1zM1377.0 1411.2h22.1v22.1h-22.1zM1380.7 1407.4h22.1v22.1h-22.1zM1384.5 1407.4h22.1v22.1h-22.1zM1384.5 1411.2h22.1v22.1h-22.1zM1388.3 1109.5h22.1v22.1h-22.1zM1388.3 1113.2h22.1v22.1h-22.1zM1388.3 1117.0h22.1v22.1h-22.1zM1388.3 1407.4h22.1v22.1h-22.1zM1392.0 1101.9h22.1v22.1h-22.1zM1392.0 1105.7h22.1v22.1h-22.1zM1392.0 1109.5h22.1v22.1h-22.1zM1392.0 1113.2h22.1v22.1h-22.1zM1392.0 1117.0h22.1v22.1h-22.1zM1392.0 1407.4h22.1v22.1h-22.1zM1392.0 1411.2h22.1v22.1h-22.1zM1395.8 261.0h22.1v22.1h-22.1zM1395.8 264.8h22.1v22.1h-22.1zM1395.8 272.3h22.1v22.1h-22.1zM1395.8 276.1h22.1v22.1h-22.1zM1395.8 1105.7h22.1v22.1h-22.1zM1395.8 1109.5h22.1v22.1h-22.1zM1395.8 1113.2h22.1v22.1h-22.1zM1395.8 1117.0h22.1v22.1h-22.1zM1395.8 1407.4h22.1v22.1h-22.1zM1395.8 1411.2h22.1v22.1h-22.1zM1399.6 117.7h22.1v22.1h-22.1zM1399.6 261.0h22.1v22.1h-22.1zM1399.6 264.8h22.1v22.1h-22.1zM1399.6 1105.7h22.1v22.1h-22.1zM1399.6 1109.5h22.1v22.1h-22.1zM1399.6 1113.2h22.1v22.1h-22.1zM1399.6 1117.0h22.1v22.1h-22.1zM1399.6 1120.8h22.1v22.1h-22.1zM1403.4 113.9h22.1v22.1h-22.1zM1403.4 117.7h22.1v22.1h-22.1zM1403.4 121.5h22.1v22.1h-22.1zM1403.4 261.0h22.1v22.1h-22.1zM1403.4 1105.7h22.1v22.1h-22.1zM1403.4 1109.5h22.1v22.1h-22.1zM1403.4 1113.2h22.1v22.1h-22.1zM1403.4 1117.0h22.1v22.1h-22.1zM1403.4 1120.8h22.1v22.1h-22.1zM1403.4 1181.1h22.1v22.1h-22.1zM1403.4 1184.9h22.1v22.1h-22.1zM1403.4 1411.2h22.1v22.1h-22.1zM1407.1 110.2h22.1v22.1h-22.1zM1407.1 113.9h22.1v22.1h-22.1zM1407.1 117.7h22.1v22.1h-22.1zM1407.1 121.5h22.1v22.1h-22.1zM1407.1 125.2h22.1v22.1h-22.1zM1407.1 1094.4h22.1v22.1h-22.1zM1407.1 1098.2h22.1v22.1h-22.1zM1407.1 1101.9h22.1v22.1h-22.1zM1407.1 1105.7h22.1v22.1h-22.1zM1407.1 1109.5h22.1v22.1h-22.1zM1407.1 1113.2h22.1v22.1h-22.1zM1407.1 1117.0h22.1v22.1h-22.1zM1407.1 1120.8h22.1v22.1h-22.1zM1407.1 1124.6h22.1v22.1h-22.1zM1407.1 1128.3h22.1v22.1h-22.1zM1410.9 110.2h22.1v22.1h-22.1zM1410.9 113.9h22.1v22.1h-22.1zM1410.9 117.7h22.1v22.1h-22.1zM1410.9 121.5h22.1v22.1h-22.1zM1410.9 125.2h22.1v22.1h-22.1zM1410.9 129.0h22.1v22.1h-22.1zM1410.9 132.8h22.1v22.1h-22.1zM1410.9 1094.4h22.1v22.1h-22.1zM1410.9 1098.2h22.1v22.1h-22.1zM1410.9 1101.9h22.1v22.1h-22.1zM1410.9 1105.7h22.1v22.1h-22.1zM1410.9 1109.5h22.1v22.1h-22.1zM1410.9 1113.2h22.1v22.1h-22.1zM1410.9 1117.0h22.1v22.1h-22.1zM1410.9 1120.8h22.1v22.1h-22.1zM1410.9 1124.6h22.1v22.1h-22.1zM1410.9 1128.3h22.1v22.1h-22.1zM1410.9 1132.1h22.1v22.1h-22.1zM1410.9 1135.9h22.1v22.1h-22.1zM1410.9 1147.2h22.1v22.1h-22.1zM1410.9 1151.0h22.1v22.1h-22.1zM1410.9 1154.7h22.1v22.1h-22.1zM1414.7 106.4h22.1v22.1h-22.1zM1414.7 110.2h22.1v22.1h-22.1zM1414.7 113.9h22.1v22.1h-22.1zM1414.7 117.7h22.1v22.1h-22.1zM1414.7 121.5h22.1v22.1h-22.1zM1414.7 125.2h22.1v22.1h-22.1zM1414.7 129.0h22.1v22.1h-22.1zM1414.7 1086.8h22.1v22.1h-22.1zM1414.7 1090.6h22.1v22.1h-22.1zM1414.7 1094.4h22.1v22.1h-22.1zM1414.7 1098.2h22.1v22.1h-22.1zM1414.7 1101.9h22.1v22.1h-22.1zM1414.7 1105.7h22.1v22.1h-22.1zM1414.7 1109.5h22.1v22.1h-22.1zM1414.7 1113.2h22.1v22.1h-22.1zM1414.7 1117.0h22.1v22.1h-22.1zM1414.7 1120.8h22.1v22.1h-22.1zM1414.7 1124.6h22.1v22.1h-22.1zM1414.7 1128.3h22.1v22.1h-22.1zM1414.7 1132.1h22.1v22.1h-22.1zM1414.7 1135.9h22.1v22.1h-22.1zM1414.7 1139.6h22.1v22.1h-22.1zM1414.7 1143.4h22.1v22.1h-22.1zM1414.7 1147.2h22.1v22.1h-22.1zM1414.7 1151.0h22.1v22.1h-22.1zM1414.7 1154.7h22.1v22.1h-22.1zM1418.4 106.4h22.1v22.1h-22.1zM1418.4 110.2h22.1v22.1h-22.1zM1418.4 113.9h22.1v22.1h-22.1zM1418.4 117.7h22.1v22.1h-22.1zM1418.4 121.5h22.1v22.1h-22.1zM1418.4 125.2h22.1v22.1h-22.1zM1418.4 129.0h22.1v22.1h-22.1zM1418.4 155.4h22.1v22.1h-22.1zM1418.4 728.6h22.1v22.1h-22.1zM1418.4 732.4h22.1v22.1h-22.1zM1418.4 736.1h22.1v22.1h-22.1zM1418.4 739.9h22.1v22.1h-22.1zM1418.4 743.7h22.1v22.1h-22.1zM1418.4 747.5h22.1v22.1h-22.1zM1418.4 751.2h22.1v22.1h-22.1zM1418.4 1120.8h22.1v22.1h-22.1zM1418.4 1124.6h22.1v22.1h-22.1zM1418.4 1128.3h22.1v22.1h-22.1zM1418.4 1132.1h22.1v22.1h-22.1zM1418.4 1135.9h22.1v22.1h-22.1zM1418.4 1139.6h22.1v22.1h-22.1zM1418.4 1143.4h22.1v22.1h-22.1zM1418.4 1147.2h22.1v22.1h-22.1zM1422.2 80.0h22.1v22.1h-22.1zM1422.2 91.3h22.1v22.1h-22.1zM1422.2 95.1h22.1v22.1h-22.1zM1422.2 102.6h22.1v22.1h-22.1zM1422.2 106.4h22.1v22.1h-22.1zM1422.2 110.2h22.1v22.1h-22.1zM1422.2 113.9h22.1v22.1h-22.1zM1422.2 117.7h22.1v22.1h-22.1zM1422.2 121.5h22.1v22.1h-22.1zM1422.2 125.2h22.1v22.1h-22.1zM1422.2 129.0h22.1v22.1h-22.1zM1422.2 724.8h22.1v22.1h-22.1zM1422.2 728.6h22.1v22.1h-22.1zM1422.2 732.4h22.1v22.1h-22.1zM1422.2 736.1h22.1v22.1h-22.1zM1422.2 739.9h22.1v22.1h-22.1zM1422.2 743.7h22.1v22.1h-22.1zM1422.2 747.5h22.1v22.1h-22.1zM1422.2 834.2h22.1v22.1h-22.1zM1422.2 1124.6h22.1v22.1h-22.1zM1422.2 1128.3h22.1v22.1h-22.1zM1422.2 1132.1h22.1v22.1h-22.1zM1422.2 1135.9h22.1v22.1h-22.1zM1422.2 1139.6h22.1v22.1h-22.1zM1422.2 1143.4h22.1v22.1h-22.1zM1426.0 102.6h22.1v22.1h-22.1zM1426.0 106.4h22.1v22.1h-22.1zM1426.0 110.2h22.1v22.1h-22.1zM1426.0 113.9h22.1v22.1h-22.1zM1426.0 117.7h22.1v22.1h-22.1zM1426.0 121.5h22.1v22.1h-22.1zM1426.0 125.2h22.1v22.1h-22.1zM1426.0 129.0h22.1v22.1h-22.1zM1426.0 721.1h22.1v22.1h-22.1zM1426.0 724.8h22.1v22.1h-22.1zM1426.0 728.6h22.1v22.1h-22.1zM1426.0 732.4h22.1v22.1h-22.1zM1426.0 736.1h22.1v22.1h-22.1zM1426.0 739.9h22.1v22.1h-22.1zM1426.0 1128.3h22.1v22.1h-22.1zM1426.0 1132.1h22.1v22.1h-22.1zM1426.0 1135.9h22.1v22.1h-22.1zM1429.8 102.6h22.1v22.1h-22.1zM1429.8 106.4h22.1v22.1h-22.1zM1429.8 110.2h22.1v22.1h-22.1zM1429.8 113.9h22.1v22.1h-22.1zM1429.8 117.7h22.1v22.1h-22.1zM1429.8 121.5h22.1v22.1h-22.1zM1429.8 125.2h22.1v22.1h-22.1zM1429.8 434.5h22.1v22.1h-22.1zM1429.8 721.1h22.1v22.1h-22.1zM1429.8 724.8h22.1v22.1h-22.1zM1429.8 728.6h22.1v22.1h-22.1zM1429.8 732.4h22.1v22.1h-22.1zM1429.8 770.1h22.1v22.1h-22.1zM1433.5 106.4h22.1v22.1h-22.1zM1433.5 110.2h22.1v22.1h-22.1zM1433.5 113.9h22.1v22.1h-22.1zM1433.5 117.7h22.1v22.1h-22.1zM1433.5 121.5h22.1v22.1h-22.1zM1433.5 125.2h22.1v22.1h-22.1zM1433.5 249.7h22.1v22.1h-22.1zM1433.5 721.1h22.1v22.1h-22.1zM1433.5 724.8h22.1v22.1h-22.1zM1433.5 728.6h22.1v22.1h-22.1zM1437.3 110.2h22.1v22.1h-22.1zM1437.3 113.9h22.1v22.1h-22.1zM1437.3 117.7h22.1v22.1h-22.1zM1437.3 121.5h22.1v22.1h-22.1zM1437.3 200.7h22.1v22.1h-22.1zM1437.3 249.7h22.1v22.1h-22.1zM1437.3 253.5h22.1v22.1h-22.1zM1437.3 261.0h22.1v22.1h-22.1zM1437.3 264.8h22.1v22.1h-22.1zM1437.3 721.1h22.1v22.1h-22.1zM1437.3 724.8h22.1v22.1h-22.1zM1441.1 113.9h22.1v22.1h-22.1zM1441.1 261.0h22.1v22.1h-22.1zM1441.1 264.8h22.1v22.1h-22.1zM1441.1 1120.8h22.1v22.1h-22.1zM1444.8 261.0h22.1v22.1h-22.1zM1444.8 264.8h22.1v22.1h-22.1zM1444.8 268.5h22.1v22.1h-22.1zM1444.8 1117.0h22.1v22.1h-22.1zM1444.8 1120.8h22.1v22.1h-22.1zM1448.6 257.2h22.1v22.1h-22.1zM1448.6 261.0h22.1v22.1h-22.1zM1448.6 264.8h22.1v22.1h-22.1zM1448.6 268.5h22.1v22.1h-22.1zM1448.6 272.3h22.1v22.1h-22.1zM1448.6 276.1h22.1v22.1h-22.1zM1448.6 279.9h22.1v22.1h-22.1zM1448.6 291.2h22.1v22.1h-22.1zM1452.4 257.2h22.1v22.1h-22.1zM1452.4 261.0h22.1v22.1h-22.1zM1452.4 264.8h22.1v22.1h-22.1zM1452.4 268.5h22.1v22.1h-22.1zM1452.4 272.3h22.1v22.1h-22.1zM1452.4 276.1h22.1v22.1h-22.1zM1452.4 279.9h22.1v22.1h-22.1zM1452.4 302.5h22.1v22.1h-22.1zM1456.1 257.2h22.1v22.1h-22.1zM1456.1 261.0h22.1v22.1h-22.1zM1456.1 264.8h22.1v22.1h-22.1zM1456.1 268.5h22.1v22.1h-22.1zM1456.1 272.3h22.1v22.1h-22.1zM1456.1 276.1h22.1v22.1h-22.1zM1456.1 279.9h22.1v22.1h-22.1zM1456.1 313.8h22.1v22.1h-22.1zM1459.9 257.2h22.1v22.1h-22.1zM1459.9 261.0h22.1v22.1h-22.1zM1459.9 264.8h22.1v22.1h-22.1zM1459.9 268.5h22.1v22.1h-22.1zM1459.9 272.3h22.1v22.1h-22.1zM1459.9 276.1h22.1v22.1h-22.1zM1459.9 279.9h22.1v22.1h-22.1zM1463.7 200.7h22.1v22.1h-22.1zM1463.7 204.4h22.1v22.1h-22.1zM1463.7 238.4h22.1v22.1h-22.1zM1463.7 242.1h22.1v22.1h-22.1zM1463.7 245.9h22.1v22.1h-22.1zM1463.7 249.7h22.1v22.1h-22.1zM1463.7 253.5h22.1v22.1h-22.1zM1463.7 257.2h22.1v22.1h-22.1zM1463.7 261.0h22.1v22.1h-22.1zM1463.7 264.8h22.1v22.1h-22.1zM1463.7 268.5h22.1v22.1h-22.1zM1463.7 272.3h22.1v22.1h-22.1zM1463.7 276.1h22.1v22.1h-22.1zM1463.7 279.9h22.1v22.1h-22.1zM1463.7 302.5h22.1v22.1h-22.1zM1463.7 317.6h22.1v22.1h-22.1zM1463.7 328.9h22.1v22.1h-22.1zM1467.5 238.4h22.1v22.1h-22.1zM1467.5 242.1h22.1v22.1h-22.1zM1467.5 245.9h22.1v22.1h-22.1zM1467.5 249.7h22.1v22.1h-22.1zM1467.5 253.5h22.1v22.1h-22.1zM1467.5 257.2h22.1v22.1h-22.1zM1467.5 261.0h22.1v22.1h-22.1zM1467.5 264.8h22.1v22.1h-22.1zM1467.5 268.5h22.1v22.1h-22.1zM1467.5 272.3h22.1v22.1h-22.1zM1467.5 276.1h22.1v22.1h-22.1zM1467.5 279.9h22.1v22.1h-22.1zM1467.5 317.6h22.1v22.1h-22.1zM1471.2 227.1h22.1v22.1h-22.1zM1471.2 238.4h22.1v22.1h-22.1zM1471.2 242.1h22.1v22.1h-22.1zM1471.2 245.9h22.1v22.1h-22.1zM1471.2 249.7h22.1v22.1h-22.1zM1471.2 253.5h22.1v22.1h-22.1zM1471.2 257.2h22.1v22.1h-22.1zM1471.2 261.0h22.1v22.1h-22.1zM1471.2 264.8h22.1v22.1h-22.1zM1471.2 268.5h22.1v22.1h-22.1zM1471.2 272.3h22.1v22.1h-22.1zM1471.2 276.1h22.1v22.1h-22.1zM1471.2 279.9h22.1v22.1h-22.1zM1471.2 317.6h22.1v22.1h-22.1zM1471.2 328.9h22.1v22.1h-22.1zM1475.0 242.1h22.1v22.1h-22.1zM1475.0 245.9h22.1v22.1h-22.1zM1475.0 249.7h22.1v22.1h-22.1zM1475.0 253.5h22.1v22.1h-22.1zM1475.0 257.2h22.1v22.1h-22.1zM1475.0 261.0h22.1v22.1h-22.1zM1475.0 264.8h22.1v22.1h-22.1zM1475.0 268.5h22.1v22.1h-22.1zM1475.0 272.3h22.1v22.1h-22.1zM1475.0 276.1h22.1v22.1h-22.1zM1475.0 279.9h22.1v22.1h-22.1zM1475.0 283.6h22.1v22.1h-22.1zM1475.0 306.2h22.1v22.1h-22.1zM1478.8 257.2h22.1v22.1h-22.1zM1478.8 261.0h22.1v22.1h-22.1zM1478.8 264.8h22.1v22.1h-22.1zM1478.8 268.5h22.1v22.1h-22.1zM1478.8 272.3h22.1v22.1h-22.1zM1478.8 276.1h22.1v22.1h-22.1zM1478.8 279.9h22.1v22.1h-22.1zM1478.8 283.6h22.1v22.1h-22.1zM1482.5 264.8h22.1v22.1h-22.1zM1482.5 268.5h22.1v22.1h-22.1zM1482.5 272.3h22.1v22.1h-22.1zM1482.5 276.1h22.1v22.1h-22.1zM1482.5 279.9h22.1v22.1h-22.1zM1482.5 283.6h22.1v22.1h-22.1zM1486.3 268.5h22.1v22.1h-22.1zM1486.3 272.3h22.1v22.1h-22.1zM1486.3 276.1h22.1v22.1h-22.1zM1486.3 279.9h22.1v22.1h-22.1zM1486.3 283.6h22.1v22.1h-22.1zM1490.1 268.5h22.1v22.1h-22.1zM1490.1 272.3h22.1v22.1h-22.1zM1490.1 276.1h22.1v22.1h-22.1zM1490.1 279.9h22.1v22.1h-22.1zM1493.9 268.5h22.1v22.1h-22.1zM1493.9 272.3h22.1v22.1h-22.1zM1493.9 1184.9h22.1v22.1h-22.1zM1493.9 1275.4h22.1v22.1h-22.1zM1497.6 272.3h22.1v22.1h-22.1zM1497.6 1184.9h22.1v22.1h-22.1zM1497.6 1275.4h22.1v22.1h-22.1zM1497.6 1279.2h22.1v22.1h-22.1zM1497.6 1282.9h22.1v22.1h-22.1zM1497.6 1286.7h22.1v22.1h-22.1zM1497.6 1290.5h22.1v22.1h-22.1zM1497.6 1294.2h22.1v22.1h-22.1zM1497.6 1298.0h22.1v22.1h-22.1zM1497.6 1301.8h22.1v22.1h-22.1zM1497.6 1305.6h22.1v22.1h-22.1zM1501.4 1184.9h22.1v22.1h-22.1zM1501.4 1245.2h22.1v22.1h-22.1zM1501.4 1249.0h22.1v22.1h-22.1zM1501.4 1252.8h22.1v22.1h-22.1zM1501.4 1256.5h22.1v22.1h-22.1zM1501.4 1260.3h22.1v22.1h-22.1zM1501.4 1264.1h22.1v22.1h-22.1zM1501.4 1267.9h22.1v22.1h-22.1zM1501.4 1271.6h22.1v22.1h-22.1zM1501.4 1275.4h22.1v22.1h-22.1zM1501.4 1279.2h22.1v22.1h-22.1zM1501.4 1282.9h22.1v22.1h-22.1zM1501.4 1286.7h22.1v22.1h-22.1zM1501.4 1294.2h22.1v22.1h-22.1zM1501.4 1301.8h22.1v22.1h-22.1zM1501.4 1305.6h22.1v22.1h-22.1zM1501.4 1313.1h22.1v22.1h-22.1zM1505.2 1184.9h22.1v22.1h-22.1zM1505.2 1252.8h22.1v22.1h-22.1zM1505.2 1256.5h22.1v22.1h-22.1zM1505.2 1260.3h22.1v22.1h-22.1zM1505.2 1264.1h22.1v22.1h-22.1zM1505.2 1267.9h22.1v22.1h-22.1zM1505.2 1271.6h22.1v22.1h-22.1zM1505.2 1275.4h22.1v22.1h-22.1z" fill="none" stroke="#0000ff" stroke-width="3.1" stroke-linejoin="round"/>
<path d="M520.7 122.6L535.9 148.8L505.5 148.8zM520.7 182.9L535.9 209.2L505.5 209.2zM520.7 186.7L535.9 212.9L505.5 212.9zM520.7 190.5L535.9 216.7L505.5 216.7zM524.5 179.2L539.6 205.4L509.3 205.4zM524.5 186.7L539.6 212.9L509.3 212.9zM528.2 115.0L543.4 141.3L513.1 141.3zM528.2 167.8L543.4 194.1L513.1 194.1zM528.2 175.4L543.4 201.6L513.1 201.6zM528.2 182.9L543.4 209.2L513.1 209.2zM528.2 186.7L543.4 212.9L513.1 212.9zM528.2 190.5L543.4 216.7L513.1 216.7zM532.0 182.9L547.2 209.2L516.9 209.2zM532.0 190.5L547.2 216.7L516.9 216.7zM535.8 186.7L550.9 212.9L520.6 212.9zM543.3 122.6L558.5 148.8L528.2 148.8zM543.3 179.2L558.5 205.4L528.2 205.4zM543.3 190.5L558.5 216.7L528.2 216.7zM667.8 439.3L682.9 465.6L652.6 465.6zM671.5 435.6L686.7 461.8L656.4 461.8zM671.5 439.3L686.7 465.6L656.4 465.6zM822.4 115.0L837.5 141.3L807.2 141.3zM822.4 122.6L837.5 148.8L807.2 148.8zM822.4 435.6L837.5 461.8L807.2 461.8zM826.2 84.9L841.3 111.1L811.0 111.1zM826.2 100.0L841.3 126.2L811.0 126.2zM826.2 107.5L841.3 133.8L811.0 133.8zM826.2 115.0L841.3 141.3L811.0 141.3zM826.2 122.6L841.3 148.8L811.0 148.8zM826.2 167.8L841.3 194.1L811.0 194.1zM826.2 179.2L841.3 205.4L811.0 205.4zM826.2 413.0L841.3 439.2L811.0 439.2zM826.2 420.5L841.3 446.7L811.0 446.7zM826.2 431.8L841.3 458.1L811.0 458.1zM826.2 435.6L841.3 461.8L811.0 461.8zM826.2 439.3L841.3 465.6L811.0 465.6zM826.2 563.8L841.3 590.0L811.0 590.0zM829.9 84.9L845.1 111.1L814.8 111.1zM829.9 100.0L845.1 126.2L814.8 126.2zM829.9 107.5L845.1 133.8L814.8 133.8zM829.9 439.3L845.1 465.6L814.8 465.6zM833.7 84.9L848.9 111.1L818.5 111.1zM833.7 100.0L848.9 126.2L818.5 126.2zM833.7 107.5L848.9 133.8L818.5 133.8zM837.5 84.9L852.6 111.1L822.3 111.1zM837.5 100.0L852.6 126.2L822.3 126.2zM837.5 107.5L852.6 133.8L822.3 133.8zM841.2 84.9L856.4 111.1L826.1 111.1zM841.2 100.0L856.4 126.2L826.1 126.2zM841.2 107.5L856.4 133.8L826.1 133.8zM845.0 84.9L860.2 111.1L829.9 111.1zM845.0 100.0L860.2 126.2L829.9 126.2zM845.0 107.5L860.2 133.8L829.9 133.8zM848.8 84.9L863.9 111.1L833.6 111.1zM848.8 100.0L863.9 126.2L833.6 126.2zM848.8 107.5L863.9 133.8L833.6 133.8zM852.6 84.9L867.7 111.1L837.4 111.1zM852.6 100.0L867.7 126.2L837.4 126.2zM852.6 107.5L867.7 133.8L837.4 133.8zM856.3 84.9L871.5 111.1L841.2 111.1zM856.3 107.5L871.5 133.8L841.2 133.8zM856.3 137.7L871.5 163.9L841.2 163.9zM856.3 141.4L871.5 167.7L841.2 167.7zM856.3 145.2L871.5 171.5L841.2 171.5zM856.3 149.0L871.5 175.2L841.2 175.2zM860.1 84.9L875.2 111.1L844.9 111.1zM860.1 103.7L875.2 130.0L844.9 130.0zM860.1 107.5L875.2 133.8L844.9 133.8zM860.1 111.3L875.2 137.5L844.9 137.5zM860.1 115.0L875.2 141.3L844.9 141.3zM860.1 118.8L875.2 145.1L844.9 145.1zM860.1 122.6L875.2 148.8L844.9 148.8zM860.1 126.4L875.2 152.6L844.9 152.6zM860.1 130.1L875.2 156.4L844.9 156.4zM860.1 133.9L875.2 160.1L844.9 160.1zM860.1 137.7L875.2 163.9L844.9 163.9zM860.1 141.4L875.2 167.7L844.9 167.7zM860.1 145.2L875.2 171.5L844.9 171.5zM860.1 149.0L875.2 175.2L844.9 175.2zM860.1 152.8L875.2 179.0L844.9 179.0zM860.1 156.5L875.2 182.8L844.9 182.8zM860.1 160.3L875.2 186.5L844.9 186.5zM860.1 164.1L875.2 190.3L844.9 190.3zM860.1 167.8L875.2 194.1L844.9 194.1zM860.1 171.6L875.2 197.9L844.9 197.9zM860.1 413.0L875.2 439.2L844.9 439.2zM860.1 431.8L875.2 458.1L844.9 458.1zM860.1 435.6L875.2 461.8L844.9 461.8zM860.1 439.3L875.2 465.6L844.9 465.6zM863.9 84.9L879.0 111.1L848.7 111.1zM863.9 100.0L879.0 126.2L848.7 126.2zM863.9 103.7L879.0 130.0L848.7 130.0zM863.9 107.5L879.0 133.8L848.7 133.8zM863.9 111.3L879.0 137.5L848.7 137.5zM863.9 115.0L879.0 141.3L848.7 141.3zM863.9 118.8L879.0 145.1L848.7 145.1zM863.9 122.6L879.0 148.8L848.7 148.8zM863.9 126.4L879.0 152.6L848.7 152.6zM863.9 130.1L879.0 156.4L848.7 156.4zM863.9 133.9L879.0 160.1L848.7 160.1zM863.9 137.7L879.0 163.9L848.7 163.9zM863.9 141.4L879.0 167.7L848.7 167.7zM863.9 145.2L879.0 171.5L848.7 171.5zM863.9 149.0L879.0 175.2L848.7 175.2zM863.9 152.8L879.0 179.0L848.7 179.0zM863.9 156.5L879.0 182.8L848.7 182.8zM863.9 160.3L879.0 186.5L848.7 186.5zM863.9 164.1L879.0 190.3L848.7 190.3zM863.9 167.8L879.0 194.1L848.7 194.1zM863.9 171.6L879.0 197.9L848.7 197.9zM863.9 413.0L879.0 439.2L848.7 439.2zM863.9 420.5L879.0 446.7L848.7 446.7zM863.9 428.0L879.0 454.3L848.7 454.3zM863.9 431.8L879.0 458.1L848.7 458.1zM863.9 435.6L879.0 461.8L848.7 461.8zM863.9 439.3L879.0 465.6L848.7 465.6zM863.9 443.1L879.0 469.4L848.7 469.4zM863.9 446.9L879.0 473.1L848.7 473.1zM867.6 84.9L882.8 111.1L852.5 111.1zM867.6 100.0L882.8 126.2L852.5 126.2zM867.6 103.7L882.8 130.0L852.5 130.0zM867.6 107.5L882.8 133.8L852.5 133.8zM867.6 111.3L882.8 137.5L852.5 137.5zM867.6 115.0L882.8 141.3L852.5 141.3zM867.6 118.8L882.8 145.1L852.5 145.1zM867.6 122.6L882.8 148.8L852.5 148.8zM867.6 126.4L882.8 152.6L852.5 152.6zM867.6 130.1L882.8 156.4L852.5 156.4zM867.6 133.9L882.8 160.1L852.5 160.1zM867.6 137.7L882.8 163.9L852.5 163.9zM867.6 141.4L882.8 167.7L852.5 167.7zM867.6 145.2L882.8 171.5L852.5 171.5zM867.6 149.0L882.8 175.2L852.5 175.2zM867.6 152.8L882.8 179.0L852.5 179.0zM867.6 156.5L882.8 182.8L852.5 182.8zM867.6 160.3L882.8 186.5L852.5 186.5zM867.6 164.1L882.8 190.3L852.5 190.3zM867.6 167.8L882.8 194.1L852.5 194.1zM867.6 171.6L882.8 197.9L852.5 197.9zM867.6 413.0L882.8 439.2L852.5 439.2zM867.6 424.3L882.8 450.5L852.5 450.5zM867.6 428.0L882.8 454.3L852.5 454.3zM867.6 431.8L882.8 458.1L852.5 458.1zM867.6 435.6L882.8 461.8L852.5 461.8zM867.6 439.3L882.8 465.6L852.5 465.6zM867.6 443.1L882.8 469.4L852.5 469.4zM867.6 446.9L882.8 473.1L852.5 473.1zM871.4 84.9L886.6 111.1L856.3 111.1zM871.4 100.0L886.6 126.2L856.3 126.2zM871.4 103.7L886.6 130.0L856.3 130.0zM871.4 107.5L886.6 133.8L856.3 133.8zM871.4 111.3L886.6 137.5L856.3 137.5zM871.4 115.0L886.6 141.3L856.3 141.3zM871.4 118.8L886.6 145.1L856.3 145.1zM871.4 122.6L886.6 148.8L856.3 148.8zM871.4 126.4L886.6 152.6L856.3 152.6zM871.4 130.1L886.6 156.4L856.3 156.4zM871.4 133.9L886.6 160.1L856.3 160.1zM871.4 137.7L886.6 163.9L856.3 163.9zM871.4 141.4L886.6 167.7L856.3 167.7zM871.4 145.2L886.6 171.5L856.3 171.5zM871.4 149.0L886.6 175.2L856.3 175.2zM871.4 152.8L886.6 179.0L856.3 179.0zM871.4 156.5L886.6 182.8L856.3 182.8zM871.4 160.3L886.6 186.5L856.3 186.5zM871.4 164.1L886.6 190.3L856.3 190.3zM871.4 167.8L886.6 194.1L856.3 194.1zM871.4 171.6L886.6 197.9L856.3 197.9zM871.4 356.4L886.6 382.6L856.3 382.6zM871.4 428.0L886.6 454.3L856.3 454.3zM871.4 431.8L886.6 458.1L856.3 458.1zM871.4 435.6L886.6 461.8L856.3 461.8zM871.4 439.3L886.6 465.6L856.3 465.6zM871.4 443.1L886.6 469.4L856.3 469.4zM871.4 446.9L886.6 473.1L856.3 473.1zM875.2 84.9L890.3 111.1L860.0 111.1zM875.2 100.0L890.3 126.2L860.0 126.2zM875.2 130.1L890.3 156.4L860.0 156.4zM875.2 133.9L890.3 160.1L860.0 160.1zM875.2 137.7L890.3 163.9L860.0 163.9zM875.2 141.4L890.3 167.7L860.0 167.7zM875.2 145.2L890.3 171.5L860.0 171.5zM875.2 149.0L890.3 175.2L860.0 175.2zM875.2 152.8L890.3 179.0L860.0 179.0zM875.2 431.8L890.3 458.1L860.0 458.1zM875.2 435.6L890.3 461.8L860.0 461.8zM875.2 439.3L890.3 465.6L860.0 465.6zM875.2 443.1L890.3 469.4L860.0 469.4zM878.9 81.1L894.1 107.4L863.8 107.4zM878.9 84.9L894.1 111.1L863.8 111.1zM882.7 84.9L897.9 111.1L867.6 111.1zM886.5 84.9L901.6 111.1L871.3 111.1zM890.3 84.9L905.4 111.1L875.1 111.1zM894.0 84.9L909.2 111.1L878.9 111.1zM897.8 84.9L913.0 111.1L882.6 111.1zM897.8 100.0L913.0 126.2L882.6 126.2zM901.6 84.9L916.7 111.1L886.4 111.1zM901.6 100.0L916.7 126.2L886.4 126.2zM901.6 107.5L916.7 133.8L886.4 133.8zM905.3 100.0L920.5 126.2L890.2 126.2zM905.3 107.5L920.5 133.8L890.2 133.8zM905.3 115.0L920.5 141.3L890.2 141.3zM905.3 122.6L920.5 148.8L890.2 148.8zM905.3 156.5L920.5 182.8L890.2 182.8zM905.3 160.3L920.5 186.5L890.2 186.5zM905.3 164.1L920.5 190.3L890.2 190.3zM905.3 167.8L920.5 194.1L890.2 194.1zM905.3 171.6L920.5 197.9L890.2 197.9zM905.3 175.4L920.5 201.6L890.2 201.6zM905.3 179.2L920.5 205.4L890.2 205.4zM905.3 182.9L920.5 209.2L890.2 209.2zM905.3 371.5L920.5 397.7L890.2 397.7zM909.1 84.9L924.3 111.1L894.0 111.1zM909.1 100.0L924.3 126.2L894.0 126.2zM909.1 107.5L924.3 133.8L894.0 133.8zM909.1 122.6L924.3 148.8L894.0 148.8zM909.1 152.8L924.3 179.0L894.0 179.0zM909.1 156.5L924.3 182.8L894.0 182.8zM909.1 160.3L924.3 186.5L894.0 186.5zM909.1 164.1L924.3 190.3L894.0 190.3zM909.1 167.8L924.3 194.1L894.0 194.1zM909.1 171.6L924.3 197.9L894.0 197.9zM909.1 175.4L924.3 201.6L894.0 201.6zM909.1 179.2L924.3 205.4L894.0 205.4zM909.1 182.9L924.3 209.2L894.0 209.2zM909.1 186.7L924.3 212.9L894.0 212.9zM909.1 190.5L924.3 216.7L894.0 216.7zM909.1 371.5L924.3 397.7L894.0 397.7zM909.1 431.8L924.3 458.1L894.0 458.1zM909.1 435.6L924.3 461.8L894.0 461.8zM909.1 439.3L924.3 465.6L894.0 465.6zM909.1 480.8L924.3 507.1L894.0 507.1zM909.1 484.6L924.3 510.9L894.0 510.9zM909.1 488.4L924.3 514.6L894.0 514.6zM909.1 492.1L924.3 518.4L894.0 518.4zM909.1 495.9L924.3 522.2L894.0 522.2zM909.1 499.7L924.3 525.9L894.0 525.9zM909.1 503.5L924.3 529.7L894.0 529.7zM909.1 507.2L924.3 533.5L894.0 533.5zM909.1 511.0L924.3 537.2L894.0 537.2zM909.1 514.8L924.3 541.0L894.0 541.0zM909.1 518.5L924.3 544.8L894.0 544.8zM909.1 522.3L924.3 548.6L894.0 548.6zM909.1 526.1L924.3 552.3L894.0 552.3zM909.1 529.9L924.3 556.1L894.0 556.1zM909.1 533.6L924.3 559.9L894.0 559.9zM909.1 537.4L924.3 563.6L894.0 563.6zM909.1 541.2L924.3 567.4L894.0 567.4zM909.1 544.9L924.3 571.2L894.0 571.2zM909.1 548.7L924.3 575.0L894.0 575.0zM909.1 552.5L924.3 578.7L894.0 578.7zM909.1 556.3L924.3 582.5L894.0 582.5zM909.1 560.0L924.3 586.3L894.0 586.3zM909.1 563.8L924.3 590.0L894.0 590.0zM912.9 84.9L928.0 111.1L897.7 111.1zM912.9 100.0L928.0 126.2L897.7 126.2zM912.9 107.5L928.0 133.8L897.7 133.8zM912.9 115.0L928.0 141.3L897.7 141.3zM912.9 122.6L928.0 148.8L897.7 148.8zM912.9 152.8L928.0 179.0L897.7 179.0zM912.9 156.5L928.0 182.8L897.7 182.8zM912.9 160.3L928.0 186.5L897.7 186.5zM912.9 164.1L928.0 190.3L897.7 190.3zM912.9 167.8L928.0 194.1L897.7 194.1zM912.9 171.6L928.0 197.9L897.7 197.9zM912.9 175.4L928.0 201.6L897.7 201.6zM912.9 179.2L928.0 205.4L897.7 205.4zM912.9 182.9L928.0 209.2L897.7 209.2zM912.9 186.7L928.0 212.9L897.7 212.9zM912.9 190.5L928.0 216.7L897.7 216.7zM912.9 371.5L928.0 397.7L897.7 397.7zM912.9 431.8L928.0 458.1L897.7 458.1zM912.9 435.6L928.0 461.8L897.7 461.8zM912.9 439.3L928.0 465.6L897.7 465.6zM912.9 477.1L928.0 503.3L897.7 503.3zM912.9 480.8L928.0 507.1L897.7 507.1zM912.9 484.6L928.0 510.9L897.7 510.9zM912.9 488.4L928.0 514.6L897.7 514.6zM912.9 492.1L928.0 518.4L897.7 518.4zM912.9 495.9L928.0 522.2L897.7 522.2zM912.9 499.7L928.0 525.9L897.7 525.9zM912.9 503.5L928.0 529.7L897.7 529.7zM912.9 507.2L928.0 533.5L897.7 533.5zM912.9 511.0L928.0 537.2L897.7 537.2zM912.9 514.8L928.0 541.0L897.7 541.0zM912.9 518.5L928.0 544.8L897.7 544.8zM912.9 522.3L928.0 548.6L897.7 548.6zM912.9 526.1L928.0 552.3L897.7 552.3zM912.9 529.9L928.0 556.1L897.7 556.1zM912.9 533.6L928.0 559.9L897.7 559.9zM912.9 537.4L928.0 563.6L897.7 563.6zM912.9 541.2L928.0 567.4L897.7 567.4zM912.9 544.9L928.0 571.2L897.7 571.2zM912.9 548.7L928.0 575.0L897.7 575.0zM912.9 552.5L928.0 578.7L897.7 578.7zM912.9 556.3L928.0 582.5L897.7 582.5zM912.9 560.0L928.0 586.3L897.7 586.3zM912.9 563.8L928.0 590.0L897.7 590.0zM916.7 84.9L931.8 111.1L901.5 111.1zM916.7 100.0L931.8 126.2L901.5 126.2zM916.7 107.5L931.8 133.8L901.5 133.8zM916.7 152.8L931.8 179.0L901.5 179.0zM916.7 156.5L931.8 182.8L901.5 182.8zM916.7 160.3L931.8 186.5L901.5 186.5zM916.7 164.1L931.8 190.3L901.5 190.3zM916.7 167.8L931.8 194.1L901.5 194.1zM916.7 171.6L931.8 197.9L901.5 197.9zM916.7 175.4L931.8 201.6L901.5 201.6zM916.7 179.2L931.8 205.4L901.5 205.4zM916.7 182.9L931.8 209.2L901.5 209.2zM916.7 186.7L931.8 212.9L901.5 212.9zM916.7 439.3L931.8 465.6L901.5 465.6zM916.7 473.3L931.8 499.5L901.5 499.5zM916.7 477.1L931.8 503.3L901.5 503.3zM916.7 480.8L931.8 507.1L901.5 507.1zM916.7 484.6L931.8 510.9L901.5 510.9zM916.7 488.4L931.8 514.6L901.5 514.6zM916.7 492.1L931.8 518.4L901.5 518.4zM916.7 495.9L931.8 522.2L901.5 522.2zM916.7 499.7L931.8 525.9L901.5 525.9zM916.7 503.5L931.8 529.7L901.5 529.7zM916.7 507.2L931.8 533.5L901.5 533.5zM916.7 511.0L931.8 537.2L901.5 537.2zM916.7 514.8L931.8 541.0L901.5 541.0zM916.7 518.5L931.8 544.8L901.5 544.8zM916.7 522.3L931.8 548.6L901.5 548.6zM916.7 526.1L931.8 552.3L901.5 552.3zM916.7 529.9L931.8 556.1L901.5 556.1zM916.7 533.6L931.8 559.9L901.5 559.9zM916.7 537.4L931.8 563.6L901.5 563.6zM916.7 541.2L931.8 567.4L901.5 567.4zM916.7 544.9L931.8 571.2L901.5 571.2zM916.7 548.7L931.8 575.0L901.5 575.0zM916.7 552.5L931.8 578.7L901.5 578.7zM916.7 556.3L931.8 582.5L901.5 582.5zM916.7 560.0L931.8 586.3L901.5 586.3zM916.7 563.8L931.8 590.0L901.5 590.0zM916.7 567.6L931.8 593.8L901.5 593.8zM916.7 571.3L931.8 597.6L901.5 597.6zM920.4 84.9L935.6 111.1L905.3 111.1zM920.4 100.0L935.6 126.2L905.3 126.2zM920.4 107.5L935.6 133.8L905.3 133.8zM920.4 152.8L935.6 179.0L905.3 179.0zM920.4 156.5L935.6 182.8L905.3 182.8zM920.4 160.3L935.6 186.5L905.3 186.5zM920.4 164.1L935.6 190.3L905.3 190.3zM920.4 167.8L935.6 194.1L905.3 194.1zM920.4 171.6L935.6 197.9L905.3 197.9zM920.4 175.4L935.6 201.6L905.3 201.6zM920.4 179.2L935.6 205.4L905.3 205.4zM920.4 477.1L935.6 503.3L905.3 503.3zM920.4 480.8L935.6 507.1L905.3 507.1zM920.4 484.6L935.6 510.9L905.3 510.9zM920.4 488.4L935.6 514.6L905.3 514.6zM920.4 492.1L935.6 518.4L905.3 518.4zM920.4 495.9L935.6 522.2L905.3 522.2zM920.4 499.7L935.6 525.9L905.3 525.9zM920.4 503.5L935.6 529.7L905.3 529.7zM920.4 507.2L935.6 533.5L905.3 533.5zM920.4 511.0L935.6 537.2L905.3 537.2zM920.4 514.8L935.6 541.0L905.3 541.0zM920.4 518.5L935.6 544.8L905.3 544.8zM920.4 522.3L935.6 548.6L905.3 548.6zM920.4 526.1L935.6 552.3L905.3 552.3zM920.4 529.9L935.6 556.1L905.3 556.1zM920.4 533.6L935.6 559.9L905.3 559.9zM920.4 537.4L935.6 563.6L905.3 563.6zM920.4 541.2L935.6 567.4L905.3 567.4zM920.4 544.9L935.6 571.2L905.3 571.2zM920.4 548.7L935.6 575.0L905.3 575.0zM920.4 552.5L935.6 578.7L905.3 578.7zM920.4 556.3L935.6 582.5L905.3 582.5zM920.4 560.0L935.6 586.3L905.3 586.3zM920.4 563.8L935.6 590.0L905.3 590.0zM924.2 84.9L939.4 111.1L909.0 111.1zM924.2 100.0L939.4 126.2L909.0 126.2zM924.2 152.8L939.4 179.0L909.0 179.0zM924.2 156.5L939.4 182.8L909.0 182.8zM924.2 160.3L939.4 186.5L909.0 186.5zM924.2 164.1L939.4 190.3L909.0 190.3zM924.2 167.8L939.4 194.1L909.0 194.1zM924.2 171.6L939.4 197.9L909.0 197.9zM924.2 480.8L939.4 507.1L909.0 507.1zM924.2 484.6L939.4 510.9L909.0 510.9zM924.2 488.4L939.4 514.6L909.0 514.6zM924.2 492.1L939.4 518.4L909.0 518.4zM924.2 495.9L939.4 522.2L909.0 522.2zM924.2 499.7L939.4 525.9L909.0 525.9zM924.2 503.5L939.4 529.7L909.0 529.7zM924.2 507.2L939.4 533.5L909.0 533.5zM924.2 511.0L939.4 537.2L909.0 537.2zM924.2 514.8L939.4 541.0L909.0 541.0zM924.2 518.5L939.4 544.8L909.0 544.8zM924.2 522.3L939.4 548.6L909.0 548.6zM924.2 526.1L939.4 552.3L909.0 552.3zM924.2 529.9L939.4 556.1L909.0 556.1zM924.2 533.6L939.4 559.9L909.0 559.9zM924.2 537.4L939.4 563.6L909.0 563.6zM924.2 541.2L939.4 567.4L909.0 567.4zM924.2 544.9L939.4 571.2L909.0 571.2zM924.2 548.7L939.4 575.0L909.0 575.0zM924.2 552.5L939.4 578.7L909.0 578.7zM924.2 556.3L939.4 582.5L909.0 582.5zM924.2 560.0L939.4 586.3L909.0 586.3zM924.2 563.8L939.4 590.0L909.0 590.0zM928.0 84.9L943.1 111.1L912.8 111.1zM928.0 100.0L943.1 126.2L912.8 126.2zM928.0 152.8L943.1 179.0L912.8 179.0zM928.0 156.5L943.1 182.8L912.8 182.8zM928.0 160.3L943.1 186.5L912.8 186.5zM931.7 84.9L946.9 111.1L916.6 111.1zM931.7 100.0L946.9 126.2L916.6 126.2zM935.5 84.9L950.7 111.1L920.4 111.1zM935.5 100.0L950.7 126.2L920.4 126.2zM939.3 84.9L954.4 111.1L924.1 111.1zM939.3 100.0L954.4 126.2L924.1 126.2zM943.1 84.9L958.2 111.1L927.9 111.1zM943.1 100.0L958.2 126.2L927.9 126.2zM946.8 84.9L962.0 111.1L931.7 111.1zM946.8 100.0L962.0 126.2L931.7 126.2zM984.5 541.2L999.7 567.4L969.4 567.4zM984.5 669.4L999.7 695.6L969.4 695.6zM988.3 537.4L1003.5 563.6L973.2 563.6zM988.3 541.2L1003.5 567.4L973.2 567.4zM988.3 544.9L1003.5 571.2L973.2 571.2zM988.3 548.7L1003.5 575.0L973.2 575.0zM988.3 552.5L1003.5 578.7L973.2 578.7zM988.3 556.3L1003.5 582.5L973.2 582.5zM988.3 560.0L1003.5 586.3L973.2 586.3zM988.3 563.8L1003.5 590.0L973.2 590.0zM988.3 661.8L1003.5 688.1L973.2 688.1zM988.3 665.6L1003.5 691.9L973.2 691.9zM988.3 669.4L1003.5 695.6L973.2 695.6zM988.3 673.2L1003.5 699.4L973.2 699.4zM992.1 529.9L1007.2 556.1L976.9 556.1zM992.1 533.6L1007.2 559.9L976.9 559.9zM992.1 537.4L1007.2 563.6L976.9 563.6zM992.1 541.2L1007.2 567.4L976.9 567.4zM992.1 544.9L1007.2 571.2L976.9 571.2zM992.1 548.7L1007.2 575.0L976.9 575.0zM992.1 552.5L1007.2 578.7L976.9 578.7zM992.1 556.3L1007.2 582.5L976.9 582.5zM992.1 560.0L1007.2 586.3L976.9 586.3zM992.1 563.8L1007.2 590.0L976.9 590.0zM992.1 658.1L1007.2 684.3L976.9 684.3zM992.1 661.8L1007.2 688.1L976.9 688.1zM992.1 665.6L1007.2 691.9L976.9 691.9zM992.1 669.4L1007.2 695.6L976.9 695.6zM992.1 673.2L1007.2 699.4L976.9 699.4zM992.1 676.9L1007.2 703.2L976.9 703.2zM995.8 503.5L1011.0 529.7L980.7 529.7zM995.8 511.0L1011.0 537.2L980.7 537.2zM995.8 522.3L1011.0 548.6L980.7 548.6zM995.8 526.1L1011.0 552.3L980.7 552.3zM995.8 529.9L1011.0 556.1L980.7 556.1zM995.8 533.6L1011.0 559.9L980.7 559.9zM995.8 537.4L1011.0 563.6L980.7 563.6zM995.8 541.2L1011.0 567.4L980.7 567.4zM995.8 544.9L1011.0 571.2L980.7 571.2zM995.8 548.7L1011.0 575.0L980.7 575.0zM995.8 552.5L1011.0 578.7L980.7 578.7zM995.8 556.3L1011.0 582.5L980.7 582.5zM995.8 560.0L1011.0 586.3L980.7 586.3zM995.8 563.8L1011.0 590.0L980.7 590.0zM995.8 567.6L1011.0 593.8L980.7 593.8zM995.8 650.5L1011.0 676.8L980.7 676.8zM995.8 654.3L1011.0 680.5L980.7 680.5zM995.8 658.1L1011.0 684.3L980.7 684.3zM995.8 661.8L1011.0 688.1L980.7 688.1zM995.8 665.6L1011.0 691.9L980.7 691.9zM995.8 669.4L1011.0 695.6L980.7 695.6zM995.8 673.2L1011.0 699.4L980.7 699.4zM995.8 676.9L1011.0 703.2L980.7 703.2zM999.6 503.5L1014.8 529.7L984.5 529.7zM999.6 522.3L1014.8 548.6L984.5 548.6zM999.6 526.1L1014.8 552.3L984.5 552.3zM999.6 529.9L1014.8 556.1L984.5 556.1zM999.6 533.6L1014.8 559.9L984.5 559.9zM999.6 537.4L1014.8 563.6L984.5 563.6zM999.6 541.2L1014.8 567.4L984.5 567.4zM999.6 544.9L1014.8 571.2L984.5 571.2zM999.6 548.7L1014.8 575.0L984.5 575.0zM999.6 552.5L1014.8 578.7L984.5 578.7zM999.6 556.3L1014.8 582.5L984.5 582.5zM999.6 560.0L1014.8 586.3L984.5 586.3zM999.6 563.8L1014.8 590.0L984.5 590.0zM999.6 567.6L1014.8 593.8L984.5 593.8zM999.6 571.3L1014.8 597.6L984.5 597.6zM999.6 643.0L1014.8 669.2L984.5 669.2zM999.6 646.8L1014.8 673.0L984.5 673.0zM999.6 650.5L1014.8 676.8L984.5 676.8zM999.6 654.3L1014.8 680.5L984.5 680.5zM999.6 658.1L1014.8 684.3L984.5 684.3zM999.6 661.8L1014.8 688.1L984.5 688.1zM999.6 665.6L1014.8 691.9L984.5 691.9zM999.6 669.4L1014.8 695.6L984.5 695.6zM999.6 673.2L1014.8 699.4L984.5 699.4zM999.6 676.9L1014.8 703.2L984.5 703.2zM999.6 680.7L1014.8 706.9L984.5 706.9zM1003.4 526.1L1018.5 552.3L988.2 552.3zM1003.4 529.9L1018.5 556.1L988.2 556.1zM1003.4 533.6L1018.5 559.9L988.2 559.9zM1003.4 537.4L1018.5 563.6L988.2 563.6zM1003.4 541.2L1018.5 567.4L988.2 567.4zM1003.4 544.9L1018.5 571.2L988.2 571.2zM1003.4 548.7L1018.5 575.0L988.2 575.0zM1003.4 552.5L1018.5 578.7L988.2 578.7zM1003.4 556.3L1018.5 582.5L988.2 582.5zM1003.4 560.0L1018.5 586.3L988.2 586.3zM1003.4 563.8L1018.5 590.0L988.2 590.0zM1003.4 639.2L1018.5 665.5L988.2 665.5zM1003.4 643.0L1018.5 669.2L988.2 669.2zM1003.4 646.8L1018.5 673.0L988.2 673.0zM1003.4 650.5L1018.5 676.8L988.2 676.8zM1003.4 654.3L1018.5 680.5L988.2 680.5zM1003.4 658.1L1018.5 684.3L988.2 684.3zM1003.4 661.8L1018.5 688.1L988.2 688.1zM1003.4 665.6L1018.5 691.9L988.2 691.9zM1003.4 669.4L1018.5 695.6L988.2 695.6zM1003.4 673.2L1018.5 699.4L988.2 699.4zM1003.4 676.9L1018.5 703.2L988.2 703.2zM1007.2 533.6L1022.3 559.9L992.0 559.9zM1007.2 537.4L1022.3 563.6L992.0 563.6zM1007.2 541.2L1022.3 567.4L992.0 567.4zM1007.2 639.2L1022.3 665.5L992.0 665.5zM1007.2 643.0L1022.3 669.2L992.0 669.2zM1007.2 646.8L1022.3 673.0L992.0 673.0zM1007.2 650.5L1022.3 676.8L992.0 676.8zM1007.2 654.3L1022.3 680.5L992.0 680.5zM1007.2 658.1L1022.3 684.3L992.0 684.3zM1007.2 661.8L1022.3 688.1L992.0 688.1zM1007.2 665.6L1022.3 691.9L992.0 691.9zM1007.2 669.4L1022.3 695.6L992.0 695.6zM1007.2 673.2L1022.3 699.4L992.0 699.4zM1007.2 676.9L1022.3 703.2L992.0 703.2zM1010.9 537.4L1026.1 563.6L995.8 563.6zM1010.9 541.2L1026.1 567.4L995.8 567.4zM1010.9 639.2L1026.1 665.5L995.8 665.5zM1010.9 643.0L1026.1 669.2L995.8 669.2zM1010.9 646.8L1026.1 673.0L995.8 673.0zM1010.9 650.5L1026.1 676.8L995.8 676.8zM1010.9 654.3L1026.1 680.5L995.8 680.5zM1010.9 658.1L1026.1 684.3L995.8 684.3zM1010.9 661.8L1026.1 688.1L995.8 688.1zM1010.9 665.6L1026.1 691.9L995.8 691.9zM1010.9 669.4L1026.1 695.6L995.8 695.6zM1010.9 673.2L1026.1 699.4L995.8 699.4zM1010.9 676.9L1026.1 703.2L995.8 703.2zM1014.7 541.2L1029.9 567.4L999.5 567.4zM1014.7 635.4L1029.9 661.7L999.5 661.7zM1014.7 639.2L1029.9 665.5L999.5 665.5zM1014.7 643.0L1029.9 669.2L999.5 669.2zM1014.7 646.8L1029.9 673.0L999.5 673.0zM1014.7 650.5L1029.9 676.8L999.5 676.8zM1014.7 654.3L1029.9 680.5L999.5 680.5zM1014.7 658.1L1029.9 684.3L999.5 684.3zM1014.7 661.8L1029.9 688.1L999.5 688.1zM1014.7 665.6L1029.9 691.9L999.5 691.9zM1014.7 669.4L1029.9 695.6L999.5 695.6zM1014.7 673.2L1029.9 699.4L999.5 699.4zM1014.7 676.9L1029.9 703.2L999.5 703.2zM1018.5 635.4L1033.6 661.7L1003.3 661.7zM1018.5 639.2L1033.6 665.5L1003.3 665.5zM1018.5 643.0L1033.6 669.2L1003.3 669.2zM1018.5 646.8L1033.6 673.0L1003.3 673.0zM1018.5 650.5L1033.6 676.8L1003.3 676.8zM1018.5 654.3L1033.6 680.5L1003.3 680.5zM1018.5 658.1L1033.6 684.3L1003.3 684.3zM1018.5 661.8L1033.6 688.1L1003.3 688.1zM1018.5 665.6L1033.6 691.9L1003.3 691.9zM1018.5 669.4L1033.6 695.6L1003.3 695.6zM1018.5 673.2L1033.6 699.4L1003.3 699.4zM1022.2 635.4L1037.4 661.7L1007.1 661.7zM1022.2 639.2L1037.4 665.5L1007.1 665.5zM1022.2 643.0L1037.4 669.2L1007.1 669.2zM1022.2 646.8L1037.4 673.0L1007.1 673.0zM1022.2 650.5L1037.4 676.8L1007.1 676.8zM1022.2 654.3L1037.4 680.5L1007.1 680.5zM1022.2 658.1L1037.4 684.3L1007.1 684.3zM1022.2 661.8L1037.4 688.1L1007.1 688.1zM1022.2 665.6L1037.4 691.9L1007.1 691.9zM1022.2 669.4L1037.4 695.6L1007.1 695.6zM1026.0 635.4L1041.2 661.7L1010.9 661.7zM1026.0 639.2L1041.2 665.5L1010.9 665.5zM1026.0 643.0L1041.2 669.2L1010.9 669.2zM1026.0 646.8L1041.2 673.0L1010.9 673.0zM1026.0 650.5L1041.2 676.8L1010.9 676.8zM1026.0 654.3L1041.2 680.5L1010.9 680.5zM1026.0 658.1L1041.2 684.3L1010.9 684.3zM1026.0 661.8L1041.2 688.1L1010.9 688.1zM1026.0 665.6L1041.2 691.9L1010.9 691.9zM1026.0 669.4L1041.2 695.6L1010.9 695.6zM1029.8 639.2L1044.9 665.5L1014.6 665.5zM1029.8 643.0L1044.9 669.2L1014.6 669.2zM1029.8 646.8L1044.9 673.0L1014.6 673.0zM1029.8 650.5L1044.9 676.8L1014.6 676.8zM1029.8 654.3L1044.9 680.5L1014.6 680.5zM1029.8 658.1L1044.9 684.3L1014.6 684.3zM1029.8 661.8L1044.9 688.1L1014.6 688.1zM1033.6 639.2L1048.7 665.5L1018.4 665.5zM1033.6 643.0L1048.7 669.2L1018.4 669.2zM1033.6 646.8L1048.7 673.0L1018.4 673.0zM1033.6 650.5L1048.7 676.8L1018.4 676.8zM1037.3 639.2L1052.5 665.5L1022.2 665.5zM1041.1 639.2L1056.3 665.5L1025.9 665.5zM1041.1 646.8L1056.3 673.0L1025.9 673.0zM1041.1 658.1L1056.3 684.3L1025.9 684.3zM1041.1 669.4L1056.3 695.6L1025.9 695.6zM1165.5 643.0L1180.7 669.2L1150.4 669.2zM1169.3 639.2L1184.5 665.5L1154.2 665.5zM1169.3 643.0L1184.5 669.2L1154.2 669.2zM1169.3 646.8L1184.5 673.0L1154.2 673.0zM1169.3 650.5L1184.5 676.8L1154.2 676.8zM1169.3 654.3L1184.5 680.5L1154.2 680.5zM1173.1 635.4L1188.2 661.7L1157.9 661.7zM1173.1 639.2L1188.2 665.5L1157.9 665.5zM1173.1 643.0L1188.2 669.2L1157.9 669.2zM1173.1 646.8L1188.2 673.0L1157.9 673.0zM1173.1 650.5L1188.2 676.8L1157.9 676.8zM1176.9 635.4L1192.0 661.7L1161.7 661.7zM1176.9 639.2L1192.0 665.5L1161.7 665.5zM1176.9 643.0L1192.0 669.2L1161.7 669.2zM1176.9 646.8L1192.0 673.0L1161.7 673.0zM1180.6 635.4L1195.8 661.7L1165.5 661.7zM1180.6 639.2L1195.8 665.5L1165.5 665.5zM1180.6 643.0L1195.8 669.2L1165.5 669.2zM1191.9 805.1L1207.1 831.4L1176.8 831.4zM1225.9 84.9L1241.0 111.1L1210.7 111.1zM1229.7 81.1L1244.8 107.4L1214.5 107.4zM1229.7 84.9L1244.8 111.1L1214.5 111.1zM1233.4 77.3L1248.6 103.6L1218.3 103.6zM1233.4 81.1L1248.6 107.4L1218.3 107.4zM1233.4 84.9L1248.6 111.1L1218.3 111.1zM1233.4 752.3L1248.6 778.6L1218.3 778.6zM1233.4 756.1L1248.6 782.4L1218.3 782.4zM1237.2 73.6L1252.3 99.8L1222.0 99.8zM1237.2 77.3L1252.3 103.6L1222.0 103.6zM1237.2 81.1L1252.3 107.4L1222.0 107.4zM1237.2 84.9L1252.3 111.1L1222.0 111.1zM1237.2 115.0L1252.3 141.3L1222.0 141.3zM1237.2 118.8L1252.3 145.1L1222.0 145.1zM1237.2 714.6L1252.3 740.9L1222.0 740.9zM1237.2 718.4L1252.3 744.7L1222.0 744.7zM1237.2 752.3L1252.3 778.6L1222.0 778.6zM1241.0 73.6L1256.1 99.8L1225.8 99.8zM1241.0 77.3L1256.1 103.6L1225.8 103.6zM1241.0 81.1L1256.1 107.4L1225.8 107.4zM1241.0 84.9L1256.1 111.1L1225.8 111.1zM1241.0 115.0L1256.1 141.3L1225.8 141.3zM1241.0 118.8L1256.1 145.1L1225.8 145.1zM1241.0 122.6L1256.1 148.8L1225.8 148.8zM1244.7 73.6L1259.9 99.8L1229.6 99.8zM1244.7 77.3L1259.9 103.6L1229.6 103.6zM1244.7 81.1L1259.9 107.4L1229.6 107.4zM1244.7 84.9L1259.9 111.1L1229.6 111.1zM1244.7 115.0L1259.9 141.3L1229.6 141.3zM1244.7 118.8L1259.9 145.1L1229.6 145.1zM1244.7 122.6L1259.9 148.8L1229.6 148.8zM1248.5 73.6L1263.7 99.8L1233.4 99.8zM1248.5 77.3L1263.7 103.6L1233.4 103.6zM1248.5 81.1L1263.7 107.4L1233.4 107.4zM1248.5 84.9L1263.7 111.1L1233.4 111.1zM1248.5 115.0L1263.7 141.3L1233.4 141.3zM1248.5 118.8L1263.7 145.1L1233.4 145.1zM1248.5 122.6L1263.7 148.8L1233.4 148.8zM1252.3 77.3L1267.4 103.6L1237.1 103.6zM1252.3 81.1L1267.4 107.4L1237.1 107.4zM1252.3 84.9L1267.4 111.1L1237.1 111.1zM1252.3 118.8L1267.4 145.1L1237.1 145.1zM1252.3 122.6L1267.4 148.8L1237.1 148.8zM1256.0 84.9L1271.2 111.1L1240.9 111.1zM1256.0 122.6L1271.2 148.8L1240.9 148.8zM1259.8 1061.6L1275.0 1087.8L1244.7 1087.8zM1263.6 1061.6L1278.7 1087.8L1248.4 1087.8zM1263.6 1065.3L1278.7 1091.6L1248.4 1091.6zM1278.7 243.3L1293.8 269.5L1263.5 269.5zM1278.7 247.0L1293.8 273.3L1263.5 273.3zM1278.7 250.8L1293.8 277.0L1263.5 277.0zM1278.7 254.6L1293.8 280.8L1263.5 280.8zM1282.4 235.7L1297.6 262.0L1267.3 262.0zM1282.4 239.5L1297.6 265.7L1267.3 265.7zM1282.4 243.3L1297.6 269.5L1267.3 269.5zM1282.4 247.0L1297.6 273.3L1267.3 273.3zM1282.4 250.8L1297.6 277.0L1267.3 277.0zM1282.4 254.6L1297.6 280.8L1267.3 280.8zM1286.2 243.3L1301.4 269.5L1271.1 269.5zM1286.2 247.0L1301.4 273.3L1271.1 273.3zM1286.2 250.8L1301.4 277.0L1271.1 277.0zM1286.2 254.6L1301.4 280.8L1271.1 280.8zM1312.6 1095.5L1327.8 1121.8L1297.5 1121.8zM1335.2 1137.0L1350.4 1163.2L1320.1 1163.2zM1339.0 1137.0L1354.2 1163.2L1323.9 1163.2zM1410.7 100.0L1425.8 126.2L1395.5 126.2zM1414.4 115.0L1429.6 141.3L1399.3 141.3zM1414.4 250.8L1429.6 277.0L1399.3 277.0zM1414.4 258.3L1429.6 284.6L1399.3 284.6zM1414.4 1099.3L1429.6 1125.5L1399.3 1125.5zM1414.4 1103.0L1429.6 1129.3L1399.3 1129.3zM1414.4 1106.8L1429.6 1133.1L1399.3 1133.1zM1414.4 1110.6L1429.6 1136.8L1399.3 1136.8zM1414.4 1114.4L1429.6 1140.6L1399.3 1140.6zM1414.4 1118.1L1429.6 1144.4L1399.3 1144.4zM1414.4 1121.9L1429.6 1148.2L1399.3 1148.2zM1414.4 1125.7L1429.6 1151.9L1399.3 1151.9zM1414.4 1129.4L1429.6 1155.7L1399.3 1155.7zM1414.4 1133.2L1429.6 1159.5L1399.3 1159.5zM1414.4 1137.0L1429.6 1163.2L1399.3 1163.2zM1414.4 1140.8L1429.6 1167.0L1399.3 1167.0zM1414.4 1144.5L1429.6 1170.8L1399.3 1170.8zM1414.4 1148.3L1429.6 1174.5L1399.3 1174.5zM1418.2 107.5L1433.4 133.8L1403.0 133.8zM1418.2 111.3L1433.4 137.5L1403.0 137.5zM1418.2 115.0L1433.4 141.3L1403.0 141.3zM1418.2 1091.7L1433.4 1118.0L1403.0 1118.0zM1418.2 1095.5L1433.4 1121.8L1403.0 1121.8zM1418.2 1099.3L1433.4 1125.5L1403.0 1125.5zM1418.2 1103.0L1433.4 1129.3L1403.0 1129.3zM1418.2 1106.8L1433.4 1133.1L1403.0 1133.1zM1418.2 1110.6L1433.4 1136.8L1403.0 1136.8zM1418.2 1114.4L1433.4 1140.6L1403.0 1140.6zM1418.2 1118.1L1433.4 1144.4L1403.0 1144.4zM1418.2 1121.9L1433.4 1148.2L1403.0 1148.2zM1418.2 1125.7L1433.4 1151.9L1403.0 1151.9zM1418.2 1129.4L1433.4 1155.7L1403.0 1155.7zM1418.2 1133.2L1433.4 1159.5L1403.0 1159.5zM1418.2 1137.0L1433.4 1163.2L1403.0 1163.2zM1418.2 1140.8L1433.4 1167.0L1403.0 1167.0zM1418.2 1144.5L1433.4 1170.8L1403.0 1170.8zM1418.2 1148.3L1433.4 1174.5L1403.0 1174.5zM1422.0 111.3L1437.1 137.5L1406.8 137.5zM1422.0 115.0L1437.1 141.3L1406.8 141.3zM1422.0 126.4L1437.1 152.6L1406.8 152.6zM1422.0 190.5L1437.1 216.7L1406.8 216.7zM1422.0 435.6L1437.1 461.8L1406.8 461.8zM1422.0 718.4L1437.1 744.7L1406.8 744.7zM1422.0 756.1L1437.1 782.4L1406.8 782.4zM1422.0 1084.2L1437.1 1110.4L1406.8 1110.4zM1422.0 1088.0L1437.1 1114.2L1406.8 1114.2zM1422.0 1091.7L1437.1 1118.0L1406.8 1118.0zM1422.0 1095.5L1437.1 1121.8L1406.8 1121.8zM1422.0 1099.3L1437.1 1125.5L1406.8 1125.5zM1422.0 1103.0L1437.1 1129.3L1406.8 1129.3zM1422.0 1106.8L1437.1 1133.1L1406.8 1133.1zM1422.0 1110.6L1437.1 1136.8L1406.8 1136.8zM1422.0 1114.4L1437.1 1140.6L1406.8 1140.6zM1422.0 1118.1L1437.1 1144.4L1406.8 1144.4zM1422.0 1121.9L1437.1 1148.2L1406.8 1148.2zM1422.0 1125.7L1437.1 1151.9L1406.8 1151.9zM1422.0 1129.4L1437.1 1155.7L1406.8 1155.7zM1422.0 1133.2L1437.1 1159.5L1406.8 1159.5zM1422.0 1137.0L1437.1 1163.2L1406.8 1163.2zM1422.0 1140.8L1437.1 1167.0L1406.8 1167.0zM1422.0 1144.5L1437.1 1170.8L1406.8 1170.8zM1422.0 1148.3L1437.1 1174.5L1406.8 1174.5zM1425.7 115.0L1440.9 141.3L1410.6 141.3zM1425.7 118.8L1440.9 145.1L1410.6 145.1zM1425.7 126.4L1440.9 152.6L1410.6 152.6zM1425.7 1095.5L1440.9 1121.8L1410.6 1121.8zM1425.7 1099.3L1440.9 1125.5L1410.6 1125.5zM1425.7 1103.0L1440.9 1129.3L1410.6 1129.3zM1425.7 1106.8L1440.9 1133.1L1410.6 1133.1zM1425.7 1110.6L1440.9 1136.8L1410.6 1136.8zM1425.7 1114.4L1440.9 1140.6L1410.6 1140.6zM1425.7 1118.1L1440.9 1144.4L1410.6 1144.4zM1425.7 1121.9L1440.9 1148.2L1410.6 1148.2zM1425.7 1125.7L1440.9 1151.9L1410.6 1151.9zM1425.7 1129.4L1440.9 1155.7L1410.6 1155.7zM1425.7 1133.2L1440.9 1159.5L1410.6 1159.5zM1425.7 1137.0L1440.9 1163.2L1410.6 1163.2zM1425.7 1140.8L1440.9 1167.0L1410.6 1167.0zM1425.7 1144.5L1440.9 1170.8L1410.6 1170.8zM1425.7 1148.3L1440.9 1174.5L1410.6 1174.5zM1429.5 115.0L1444.7 141.3L1414.4 141.3zM1429.5 118.8L1444.7 145.1L1414.4 145.1zM1429.5 126.4L1444.7 152.6L1414.4 152.6zM1429.5 1106.8L1444.7 1133.1L1414.4 1133.1zM1429.5 1110.6L1444.7 1136.8L1414.4 1136.8zM1429.5 1114.4L1444.7 1140.6L1414.4 1140.6zM1429.5 1118.1L1444.7 1144.4L1414.4 1144.4zM1429.5 1121.9L1444.7 1148.2L1414.4 1148.2zM1429.5 1125.7L1444.7 1151.9L1414.4 1151.9zM1429.5 1129.4L1444.7 1155.7L1414.4 1155.7zM1429.5 1133.2L1444.7 1159.5L1414.4 1159.5zM1429.5 1137.0L1444.7 1163.2L1414.4 1163.2zM1429.5 1140.8L1444.7 1167.0L1414.4 1167.0zM1429.5 1144.5L1444.7 1170.8L1414.4 1170.8zM1433.3 115.0L1448.4 141.3L1418.1 141.3zM1433.3 126.4L1448.4 152.6L1418.1 152.6zM1433.3 435.6L1448.4 461.8L1418.1 461.8zM1433.3 1110.6L1448.4 1136.8L1418.1 1136.8zM1433.3 1114.4L1448.4 1140.6L1418.1 1140.6zM1433.3 1118.1L1448.4 1144.4L1418.1 1144.4zM1433.3 1121.9L1448.4 1148.2L1418.1 1148.2zM1433.3 1125.7L1448.4 1151.9L1418.1 1151.9zM1433.3 1129.4L1448.4 1155.7L1418.1 1155.7zM1433.3 1133.2L1448.4 1159.5L1418.1 1159.5zM1433.3 1137.0L1448.4 1163.2L1418.1 1163.2zM1437.1 115.0L1452.2 141.3L1421.9 141.3zM1437.1 435.6L1452.2 461.8L1421.9 461.8zM1437.1 718.4L1452.2 744.7L1421.9 744.7zM1437.1 763.7L1452.2 789.9L1421.9 789.9zM1437.1 805.1L1452.2 831.4L1421.9 831.4zM1437.1 1110.6L1452.2 1136.8L1421.9 1136.8zM1437.1 1114.4L1452.2 1140.6L1421.9 1140.6zM1437.1 1118.1L1452.2 1144.4L1421.9 1144.4zM1437.1 1121.9L1452.2 1148.2L1421.9 1148.2zM1437.1 1125.7L1452.2 1151.9L1421.9 1151.9zM1437.1 1129.4L1452.2 1155.7L1421.9 1155.7zM1440.8 115.0L1456.0 141.3L1425.7 141.3zM1440.8 250.8L1456.0 277.0L1425.7 277.0zM1440.8 254.6L1456.0 280.8L1425.7 280.8zM1440.8 435.6L1456.0 461.8L1425.7 461.8zM1440.8 439.3L1456.0 465.6L1425.7 465.6zM1440.8 443.1L1456.0 469.4L1425.7 469.4zM1440.8 446.9L1456.0 473.1L1425.7 473.1zM1440.8 718.4L1456.0 744.7L1425.7 744.7zM1440.8 722.2L1456.0 748.4L1425.7 748.4zM1440.8 725.9L1456.0 752.2L1425.7 752.2zM1440.8 1110.6L1456.0 1136.8L1425.7 1136.8zM1440.8 1114.4L1456.0 1140.6L1425.7 1140.6zM1440.8 1118.1L1456.0 1144.4L1425.7 1144.4zM1440.8 1121.9L1456.0 1148.2L1425.7 1148.2zM1444.6 115.0L1459.8 141.3L1429.4 141.3zM1444.6 247.0L1459.8 273.3L1429.4 273.3zM1444.6 250.8L1459.8 277.0L1429.4 277.0zM1444.6 254.6L1459.8 280.8L1429.4 280.8zM1444.6 258.3L1459.8 284.6L1429.4 284.6zM1444.6 435.6L1459.8 461.8L1429.4 461.8zM1444.6 439.3L1459.8 465.6L1429.4 465.6zM1444.6 443.1L1459.8 469.4L1429.4 469.4zM1444.6 446.9L1459.8 473.1L1429.4 473.1zM1444.6 563.8L1459.8 590.0L1429.4 590.0zM1444.6 718.4L1459.8 744.7L1429.4 744.7zM1444.6 722.2L1459.8 748.4L1429.4 748.4zM1444.6 725.9L1459.8 752.2L1429.4 752.2zM1444.6 763.7L1459.8 789.9L1429.4 789.9zM1444.6 767.4L1459.8 793.7L1429.4 793.7zM1444.6 805.1L1459.8 831.4L1429.4 831.4zM1444.6 944.7L1459.8 970.9L1429.4 970.9zM1444.6 948.4L1459.8 974.7L1429.4 974.7zM1444.6 1110.6L1459.8 1136.8L1429.4 1136.8zM1444.6 1114.4L1459.8 1140.6L1429.4 1140.6zM1448.4 247.0L1463.5 273.3L1433.2 273.3zM1448.4 250.8L1463.5 277.0L1433.2 277.0zM1448.4 254.6L1463.5 280.8L1433.2 280.8zM1448.4 258.3L1463.5 284.6L1433.2 284.6zM1452.1 247.0L1467.3 273.3L1437.0 273.3zM1452.1 250.8L1467.3 277.0L1437.0 277.0zM1452.1 254.6L1467.3 280.8L1437.0 280.8zM1452.1 258.3L1467.3 284.6L1437.0 284.6zM1455.9 250.8L1471.1 277.0L1440.8 277.0zM1455.9 254.6L1471.1 280.8L1440.8 280.8zM1455.9 258.3L1471.1 284.6L1440.8 284.6zM1459.7 250.8L1474.8 277.0L1444.5 277.0zM1459.7 254.6L1474.8 280.8L1444.5 280.8zM1459.7 258.3L1474.8 284.6L1444.5 284.6zM1463.5 250.8L1478.6 277.0L1448.3 277.0zM1463.5 254.6L1478.6 280.8L1448.3 280.8zM1463.5 258.3L1478.6 284.6L1448.3 284.6zM1467.2 250.8L1482.4 277.0L1452.1 277.0zM1467.2 254.6L1482.4 280.8L1452.1 280.8zM1467.2 258.3L1482.4 284.6L1452.1 284.6zM1467.2 262.1L1482.4 288.4L1452.1 288.4zM1471.0 243.3L1486.1 269.5L1455.8 269.5zM1471.0 247.0L1486.1 273.3L1455.8 273.3zM1471.0 250.8L1486.1 277.0L1455.8 277.0zM1471.0 254.6L1486.1 280.8L1455.8 280.8zM1471.0 258.3L1486.1 284.6L1455.8 284.6zM1471.0 262.1L1486.1 288.4L1455.8 288.4zM1474.8 235.7L1489.9 262.0L1459.6 262.0zM1474.8 239.5L1489.9 265.7L1459.6 265.7zM1474.8 243.3L1489.9 269.5L1459.6 269.5zM1474.8 247.0L1489.9 273.3L1459.6 273.3zM1474.8 250.8L1489.9 277.0L1459.6 277.0zM1474.8 254.6L1489.9 280.8L1459.6 280.8zM1474.8 258.3L1489.9 284.6L1459.6 284.6zM1474.8 262.1L1489.9 288.4L1459.6 288.4zM1474.8 265.9L1489.9 292.1L1459.6 292.1zM1474.8 269.7L1489.9 295.9L1459.6 295.9zM1478.5 231.9L1493.7 258.2L1463.4 258.2zM1478.5 235.7L1493.7 262.0L1463.4 262.0zM1478.5 239.5L1493.7 265.7L1463.4 265.7zM1478.5 243.3L1493.7 269.5L1463.4 269.5zM1478.5 247.0L1493.7 273.3L1463.4 273.3zM1478.5 250.8L1493.7 277.0L1463.4 277.0zM1478.5 254.6L1493.7 280.8L1463.4 280.8zM1478.5 258.3L1493.7 284.6L1463.4 284.6zM1478.5 262.1L1493.7 288.4L1463.4 288.4zM1478.5 265.9L1493.7 292.1L1463.4 292.1zM1478.5 269.7L1493.7 295.9L1463.4 295.9zM1482.3 231.9L1497.5 258.2L1467.2 258.2zM1482.3 235.7L1497.5 262.0L1467.2 262.0zM1482.3 239.5L1497.5 265.7L1467.2 265.7zM1482.3 243.3L1497.5 269.5L1467.2 269.5zM1482.3 247.0L1497.5 273.3L1467.2 273.3zM1482.3 250.8L1497.5 277.0L1467.2 277.0zM1482.3 254.6L1497.5 280.8L1467.2 280.8zM1482.3 258.3L1497.5 284.6L1467.2 284.6zM1482.3 262.1L1497.5 288.4L1467.2 288.4zM1482.3 265.9L1497.5 292.1L1467.2 292.1zM1482.3 269.7L1497.5 295.9L1467.2 295.9zM1482.3 292.3L1497.5 318.5L1467.2 318.5zM1482.3 296.1L1497.5 322.3L1467.2 322.3zM1482.3 303.6L1497.5 329.8L1467.2 329.8zM1482.3 311.1L1497.5 337.4L1467.2 337.4zM1486.1 235.7L1501.2 262.0L1470.9 262.0zM1486.1 239.5L1501.2 265.7L1470.9 265.7zM1486.1 243.3L1501.2 269.5L1470.9 269.5zM1486.1 247.0L1501.2 273.3L1470.9 273.3zM1486.1 250.8L1501.2 277.0L1470.9 277.0zM1486.1 254.6L1501.2 280.8L1470.9 280.8zM1486.1 258.3L1501.2 284.6L1470.9 284.6zM1486.1 262.1L1501.2 288.4L1470.9 288.4zM1486.1 265.9L1501.2 292.1L1470.9 292.1zM1486.1 269.7L1501.2 295.9L1470.9 295.9zM1486.1 299.8L1501.2 326.1L1470.9 326.1zM1486.1 307.4L1501.2 333.6L1470.9 333.6zM1489.8 254.6L1505.0 280.8L1474.7 280.8zM1489.8 258.3L1505.0 284.6L1474.7 284.6zM1489.8 262.1L1505.0 288.4L1474.7 288.4zM1489.8 265.9L1505.0 292.1L1474.7 292.1zM1512.5 1306.7L1527.6 1332.9L1497.3 1332.9zM1512.5 1310.5L1527.6 1336.7L1497.3 1336.7zM1512.5 1314.2L1527.6 1340.5L1497.3 1340.5z" fill="none" stroke="#ff0000" stroke-width="3.1" stroke-linejoin="round"/>
<g fill="none" stroke="#000" stroke-width="3.1" stroke-linecap="round" stroke-linejoin="round">
<rect x="120" y="30" width="1450" height="1450"/>
<path d="M170.0 1480v30M120 79.8h-30M358.5 1480v30M120 268.3h-30M547.1 1480v30M120 456.8h-30M735.6 1480v30M120 645.4h-30M924.2 1480v30M120 833.9h-30M1112.8 1480v30M120 1022.5h-30M1301.3 1480v30M120 1211.0h-30M1489.8 1480v30M120 1399.6h-30"/>
</g>
<g font-family="Liberation Sans, Arial, Helvetica, sans-serif" fill="#000" style="font-kerning:none">
<text transform="translate(168.5 1589.0) scale(0.943 1)" font-size="52.35" text-anchor="middle">0</text>
<text transform="translate(48.5 81.2) rotate(-90) scale(0.943 1)" font-size="52.35" text-anchor="middle">0</text>
<text transform="translate(357.0 1589.0) scale(0.943 1)" font-size="52.35" text-anchor="middle">50</text>
<text transform="translate(48.5 269.8) rotate(-90) scale(0.943 1)" font-size="52.35" text-anchor="middle">50</text>
<text transform="translate(545.6 1589.0) scale(0.943 1)" font-size="52.35" text-anchor="middle">100</text>
<text transform="translate(48.5 458.3) rotate(-90) scale(0.943 1)" font-size="52.35" text-anchor="middle">100</text>
<text transform="translate(734.1 1589.0) scale(0.943 1)" font-size="52.35" text-anchor="middle">150</text>
<text transform="translate(48.5 646.9) rotate(-90) scale(0.943 1)" font-size="52.35" text-anchor="middle">150</text>
<text transform="translate(922.7 1589.0) scale(0.943 1)" font-size="52.35" text-anchor="middle">200</text>
<text transform="translate(48.5 835.4) rotate(-90) scale(0.943 1)" font-size="52.35" text-anchor="middle">200</text>
<text transform="translate(1111.2 1589.0) scale(0.943 1)" font-size="52.35" text-anchor="middle">250</text>
<text transform="translate(48.5 1024.0) rotate(-90) scale(0.943 1)" font-size="52.35" text-anchor="middle">250</text>
<text transform="translate(1299.8 1589.0) scale(0.943 1)" font-size="52.35" text-anchor="middle">300</text>
<text transform="translate(48.5 1212.5) rotate(-90) scale(0.943 1)" font-size="52.35" text-anchor="middle">300</text>
<text transform="translate(1488.3 1589.0) scale(0.943 1)" font-size="52.35" text-anchor="middle">350</text>
<text transform="translate(48.5 1401.1) rotate(-90) scale(0.943 1)" font-size="52.35" text-anchor="middle">350</text>
<text transform="translate(1248.0 107.5) scale(0.955 1)" font-size="52.35" text-anchor="start">DNCON2-RR</text>
<text transform="translate(1248.0 168.0) scale(0.955 1)" font-size="52.35" text-anchor="start">Model-RR</text>
<text transform="translate(200.0 1450.5) scale(0.955 1)" font-size="104.70" text-anchor="start">Top-2L</text>
</g>
<path d="M1202.7 72.0L1217.9 98.2L1187.5 98.2z" fill="none" stroke="#ff0000" stroke-width="3.1" stroke-linejoin="round"/>
<path d="M1191.6 138.4h22.1v22.1h-22.1z" fill="none" stroke="#0000ff" stroke-width="3.1" stroke-linejoin="round"/>
</svg>
</body></html>
